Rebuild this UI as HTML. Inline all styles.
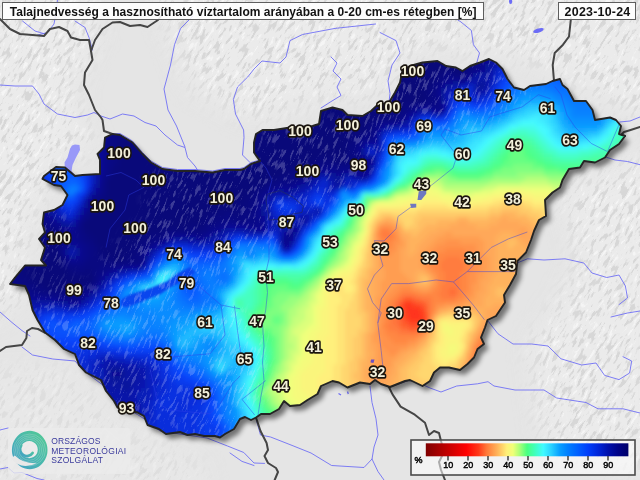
<!DOCTYPE html>
<html><head><meta charset="utf-8"><title>Talajnedvesség</title>
<style>
html,body{margin:0;padding:0;background:#e5e5e5;}
body{width:640px;height:480px;overflow:hidden;position:relative;font-family:"Liberation Sans",sans-serif;}
svg{position:absolute;left:0;top:0;display:block}
.box{position:absolute;background:rgba(255,255,255,0.88);border:1.6px solid #5e5e5e;box-sizing:border-box;font-weight:bold;color:#111;white-space:nowrap;}
#title{left:2px;top:2px;width:481.5px;height:18px;font-size:12px;line-height:19.4px;padding-left:6.8px;letter-spacing:0.035px;opacity:0.999}
#date{left:558.3px;top:2px;width:78.2px;height:18px;font-size:12.4px;line-height:19.4px;text-align:center;letter-spacing:0.25px;padding-left:0.3px;opacity:0.999}
</style></head><body>
<svg width="640" height="480" viewBox="0 0 640 480">
<defs>
<clipPath id="hu"><path d="M112.5 134L120 135L132.5 142.5L142.5 154L151 162.5L162.5 169L177.5 171L195 171L212.5 172.5L225 170L240 170L244 169L251 164L260 161L254 152.5L254 142.5L256 134L262.5 130L274 130L290 127.5L312.5 126L319 124L321 111L332.5 107.5L342.5 110L347.5 115L362.5 116L371 111L377.5 105L389 102.5L395 92.5L400 82.5L402.5 70L410 66L422.5 62.5L437.5 61L446 66L456 67.5L462.5 71L470 66L480 62.5L489 59L496 62.5L502.5 69L507.5 79L514 87.5L524 90L530 86L546 84L552.5 81L560 79L562.5 85L567.5 89L574 101L586 101L592.5 110L595 120L610 117.5L616 120L621 126L619 134L625 136L619 144L610 150L605 157.5L595 162.5L584 161L580 167.5L569 169L562.5 180L560 187.5L552.5 192.5L545 200L546 216L539 220L534 231L531 240L526 252.5L517.5 261L516 274L510 285L504 295L505 302.5L500 310L496 316L487.5 320L485 327.5L481 337.5L484 344L477.5 349L474 357.5L467.5 364L460 370L449 367.5L440 367.5L434 372.5L430 381L422.5 386L410 380L405 381L390 387L381 384L375 380L370 384L360 382.5L347.5 387.5L339 382.5L332.5 381L321 386L317.5 394L307.5 400L300 405L290 406L284 401L279 409L270 414L261 414L256 417.5L251 420L245 417L240 419L234 429L225 434L220 437.5L215 436L204 436L195 434L187.5 435L180 432L166 434L159 429L147.5 425L144 416L137.5 412.5L117.5 407.5L114 401L106 391L101 380L86 372.5L79 365L75 354L64 349L55 340L45 332.5L37.5 320L32.5 310L29 295L25 286L10 284L15 277.5L25 265.5L46 265.5L41 260L45 247.5L39 239L45 232.5L42.5 224L44 212.5L54 210L62.5 205L67.5 195L61 186L54 185L42.5 178.8L44 176L56 167L65 167.5L75 176L82.5 175L100 174L100 160L97.5 154L104 147.5L105 137.5Z"/></clipPath>
<filter id="bl" x="-5%" y="-5%" width="110%" height="110%"><feGaussianBlur stdDeviation="2.2"/></filter>
<filter id="b1"><feGaussianBlur stdDeviation="1.2"/></filter>
<filter id="sh" x="-10%" y="-10%" width="120%" height="120%"><feGaussianBlur stdDeviation="2.8"/></filter>
<linearGradient id="cb" x1="0" x2="1" y1="0" y2="0"><stop offset="0%" stop-color="#800000"/><stop offset="10%" stop-color="#be0000"/><stop offset="20%" stop-color="#ff0000"/><stop offset="26%" stop-color="#ff3818"/><stop offset="30%" stop-color="#ff7838"/><stop offset="35%" stop-color="#ffb058"/><stop offset="40%" stop-color="#fff078"/><stop offset="43%" stop-color="#f0ff78"/><stop offset="46%" stop-color="#b0ff78"/><stop offset="50%" stop-color="#48ff80"/><stop offset="54%" stop-color="#40ffbe"/><stop offset="58%" stop-color="#40faff"/><stop offset="62%" stop-color="#28d0ff"/><stop offset="66%" stop-color="#08a0ff"/><stop offset="70%" stop-color="#0080ff"/><stop offset="75%" stop-color="#0060ff"/><stop offset="80%" stop-color="#003efa"/><stop offset="85%" stop-color="#0026da"/><stop offset="90%" stop-color="#0010ac"/><stop offset="95%" stop-color="#000388"/><stop offset="100%" stop-color="#00006a"/></linearGradient>
</defs>
<rect width="640" height="480" fill="#e5e5e5"/>
<defs>
<filter id="rlD" x="0" y="0" width="100%" height="100%" color-interpolation-filters="sRGB"><feTurbulence type="fractalNoise" baseFrequency="0.085 0.3" numOctaves="4" seed="7"/><feColorMatrix type="matrix" values="0 0 0 0 0.845  0 0 0 0 0.845  0 0 0 0 0.845  10 0 0 0 -5.45"/></filter>
<filter id="rlL" x="0" y="0" width="100%" height="100%" color-interpolation-filters="sRGB"><feTurbulence type="fractalNoise" baseFrequency="0.085 0.3" numOctaves="4" seed="7"/><feColorMatrix type="matrix" values="0 0 0 0 0.96  0 0 0 0 0.96  0 0 0 0 0.96  -10 0 0 0 3.8"/></filter>
<filter id="mb" x="-20%" y="-20%" width="140%" height="140%"><feGaussianBlur stdDeviation="12"/></filter>
<mask id="mtn" maskUnits="userSpaceOnUse" x="0" y="0" width="640" height="480"><rect width="640" height="480" fill="#000"/>
<g filter="url(#mb)" fill="#fff">
<path d="M-30-20H85L100 30 70 95 95 150 55 160 30 220 20 300-30 330Z"/>
<path d="M150-20H660V130L600 95 520 55 420 45 380 95 330 95 250 120 190 85Z"/>
<path d="M560 190L660 150V470L545 450 530 345 562 300 580 260Z"/>
<path d="M-30 370L60 365 130 430 200 460 210 500H-30Z" fill="#777"/>
</g></mask>
</defs>
<g mask="url(#mtn)"><rect width="640" height="480" fill="#ececec" opacity="0.8"/><g transform="rotate(-58 320 240)"><rect x="-200" y="-300" width="1040" height="1080" filter="url(#rlD)"/><rect x="-200" y="-300" width="1040" height="1080" filter="url(#rlL)"/></g></g>

<path d="M75 144.5L79.5 145 80 150 76 157.5 72.500 165 71.500 171 75.500 176 74 177.500 69 172.500 65 167.500 64.500 162.500 67.500 157.500 70 148.750 72 145.500Z" fill="#9898f8"/>
<path d="M338.500 393.500l2.500 1.500M347.500 391.500l.8 2.500" stroke="#6c6cf6" stroke-width="1.300" fill="none"/><ellipse cx="510.600" cy="1.500" rx="1.600" ry="2.500" fill="#6c6cf6"/><ellipse cx="538.5" cy="30.5" rx="5.5" ry="2" transform="rotate(-18 538.5 30.5)" fill="#6c6cf6"/>
<g fill="none" stroke="#6f6ff5" stroke-width="0.9" stroke-linejoin="round" stroke-linecap="round"><path d="M0 85L15 86L32.5 86L39 94L44 104L57.5 114L75 117.5L87.5 115L94 112.5L101 116L110 119L122.5 114L134 116L145 122.5L156 126L165 135L177.5 145L185 147.5L187.5 157.5L195 166L197.5 170"/><path d="M112.5 134L120 133.5L132.5 141L142.5 152.5L151 161L162.5 167.5L177.5 169.5L195 169.5L212.5 171L225 168.5L240 168.5L244 167.5L251 162.5L260 160"/><path d="M57.5 0L56 12.5L54 24L47.5 32.5L37.5 35"/><path d="M75 21L85 27.5L89 37.5L92.5 50"/><path d="M22.5 21L35 31L45 34"/><path d="M193 16L180.6 28.4L174.5 44.7L170.5 65L164 89L168 110L176.5 126L185 147"/><path d="M375.6 24L335 28.4L302.5 34.5L290 40.6L286 57L280 63L262 61L254 69L247.7 77L237.5 87L233.4 99.5L235.5 114L243.6 130L244 137.5L242.5 155L250 162.5"/><path d="M331 57L337 63L333 71L341 79L337 87L341 95.5L331 101.6L321 108"/><path d="M380 32.5L396 40.6L400 53L392 65L388 81L390 93.5L389 102"/><path d="M455 18L461 22L471.4 30.5L473.4 44.7L479.5 53L476.7 63"/><path d="M619.7 122L630 121L640 117"/><path d="M605.6 157L615 160L627.5 161.5L640 164.7"/><path d="M517 263L527.5 258.8L544 260L565 258.8L583.8 263L592 273L606.7 277.5L619 275L625.4 286L627.5 298L619 304.6"/><path d="M611 317L627.5 313L640 311"/><path d="M488 321L498 333.8L513 344L531.7 344L548 346L561 358.8L581.7 365L596 363L604.6 375.4L619 379.6L629.6 373L631.7 361L623 356.7"/><path d="M392.5 386L408.8 380.5L417 382L430 388L441 392L456.7 386L477.5 383.8L488 381.7L494 386L515 390L544 390L556.7 398L586 402.5L598 408.8L623 408.8L640 413"/><path d="M370 386L372 402.5L376 418.8L378 435L374 447L372 459L378 471.6L384 480"/><path d="M256 418.75L260.5 435L270.6 437L291 445L311 453L331.6 465.5L364 467.5L372 459"/><path d="M22 347L32.5 355L52.8 359L75 361L82 369L93.4 378L104 386L109.7 393L116 403L137.5 414.5L146 420L160 431L180 434L207 438L227.5 446L243.8 452.5L254 463L264.5 463.4"/><path d="M230 453L242 461.4L254 465.5"/><path d="M0 312L12 322.5L22 330.6L30 336"/><path d="M0 430L8 428"/><path d="M0 469L8 467.5L14 473L22 472.5L37 478.5L44 480"/></g>
<g fill="none" stroke="#454545" stroke-width="2" stroke-linejoin="round" stroke-linecap="round"><path d="M0 19L10 29L20 34L32.5 35L44 36L50 29L59 27L67.5 31L71 37.5L80 40L89 40L91 51"/><path d="M91 51L95 40L102.5 29L112.5 22.5L120 22L130 26L140 25L147.5 27L158 20L162 15"/><path d="M91 51L92.5 60L85 72.5L84 85L89 95L95 110L101 117.5L102.5 120L104 131L112.5 134"/><path d="M571 18L569 36.5L563 44.7L554.7 53L552.7 65L554 81"/><path d="M625 136L621 135L624 132L630.6 130L640 127"/><path d="M388.4 386L392.5 394.4L400.6 406.6L414.8 414.7L425 422.8L429 435L434 431L439 433L441 441L444 452L439 462L441 470L445 480"/><path d="M256.4 418.75L260.5 431L266.6 443L268 450L264.5 456L268 463L276 468L278 472L274.7 480"/><path d="M0 351L6 347L14 346L22 345L26.4 338L27 331L32 328L38 329L44.7 332.6"/></g>
<path d="M112.5 134L120 135L132.5 142.5L142.5 154L151 162.5L162.5 169L177.5 171L195 171L212.5 172.5L225 170L240 170L244 169L251 164L260 161L254 152.5L254 142.5L256 134L262.5 130L274 130L290 127.5L312.5 126L319 124L321 111L332.5 107.5L342.5 110L347.5 115L362.5 116L371 111L377.5 105L389 102.5L395 92.5L400 82.5L402.5 70L410 66L422.5 62.5L437.5 61L446 66L456 67.5L462.5 71L470 66L480 62.5L489 59L496 62.5L502.5 69L507.5 79L514 87.5L524 90L530 86L546 84L552.5 81L560 79L562.5 85L567.5 89L574 101L586 101L592.5 110L595 120L610 117.5L616 120L621 126L619 134L625 136L619 144L610 150L605 157.5L595 162.5L584 161L580 167.5L569 169L562.5 180L560 187.5L552.5 192.5L545 200L546 216L539 220L534 231L531 240L526 252.5L517.5 261L516 274L510 285L504 295L505 302.5L500 310L496 316L487.5 320L485 327.5L481 337.5L484 344L477.5 349L474 357.5L467.5 364L460 370L449 367.5L440 367.5L434 372.5L430 381L422.5 386L410 380L405 381L390 387L381 384L375 380L370 384L360 382.5L347.5 387.5L339 382.5L332.5 381L321 386L317.5 394L307.5 400L300 405L290 406L284 401L279 409L270 414L261 414L256 417.5L251 420L245 417L240 419L234 429L225 434L220 437.5L215 436L204 436L195 434L187.5 435L180 432L166 434L159 429L147.5 425L144 416L137.5 412.5L117.5 407.5L114 401L106 391L101 380L86 372.5L79 365L75 354L64 349L55 340L45 332.5L37.5 320L32.5 310L29 295L25 286L10 284L15 277.5L25 265.5L46 265.5L41 260L45 247.5L39 239L45 232.5L42.5 224L44 212.5L54 210L62.5 205L67.5 195L61 186L54 185L42.5 178.8L44 176L56 167L65 167.5L75 176L82.5 175L100 174L100 160L97.5 154L104 147.5L105 137.5Z" transform="translate(4.5,5)" fill="#000" opacity="0.5" filter="url(#sh)"/>
<path d="M112.5 134L120 135L132.5 142.5L142.5 154L151 162.5L162.5 169L177.5 171L195 171L212.5 172.5L225 170L240 170L244 169L251 164L260 161L254 152.5L254 142.5L256 134L262.5 130L274 130L290 127.5L312.5 126L319 124L321 111L332.5 107.5L342.5 110L347.5 115L362.5 116L371 111L377.5 105L389 102.5L395 92.5L400 82.5L402.5 70L410 66L422.5 62.5L437.5 61L446 66L456 67.5L462.5 71L470 66L480 62.5L489 59L496 62.5L502.5 69L507.5 79L514 87.5L524 90L530 86L546 84L552.5 81L560 79L562.5 85L567.5 89L574 101L586 101L592.5 110L595 120L610 117.5L616 120L621 126L619 134L625 136L619 144L610 150L605 157.5L595 162.5L584 161L580 167.5L569 169L562.5 180L560 187.5L552.5 192.5L545 200L546 216L539 220L534 231L531 240L526 252.5L517.5 261L516 274L510 285L504 295L505 302.5L500 310L496 316L487.5 320L485 327.5L481 337.5L484 344L477.5 349L474 357.5L467.5 364L460 370L449 367.5L440 367.5L434 372.5L430 381L422.5 386L410 380L405 381L390 387L381 384L375 380L370 384L360 382.5L347.5 387.5L339 382.5L332.5 381L321 386L317.5 394L307.5 400L300 405L290 406L284 401L279 409L270 414L261 414L256 417.5L251 420L245 417L240 419L234 429L225 434L220 437.5L215 436L204 436L195 434L187.5 435L180 432L166 434L159 429L147.5 425L144 416L137.5 412.5L117.5 407.5L114 401L106 391L101 380L86 372.5L79 365L75 354L64 349L55 340L45 332.5L37.5 320L32.5 310L29 295L25 286L10 284L15 277.5L25 265.5L46 265.5L41 260L45 247.5L39 239L45 232.5L42.5 224L44 212.5L54 210L62.5 205L67.5 195L61 186L54 185L42.5 178.8L44 176L56 167L65 167.5L75 176L82.5 175L100 174L100 160L97.5 154L104 147.5L105 137.5Z" fill="#000080"/>
<g clip-path="url(#hu)">
<g filter="url(#bl)" fill="none" stroke-width="5" stroke-linecap="butt">
<path stroke="#ff2510" d="M412 314h5"/>
<path stroke="#ff2f14" d="M404 306h9M404 310h17M408 314h5M416 314h5M408 318h17"/>
<path stroke="#ff3818" d="M404 302h9M400 306h5M412 306h9M420 310h5M404 314h5M420 314h5M404 318h5M408 322h17"/>
<path stroke="#ff4820" d="M400 302h5M412 302h5M420 306h5M400 310h5M400 314h5M424 314h5M400 318h5M424 318h5M404 322h5M424 322h5M408 326h13"/>
<path stroke="#ff5828" d="M404 298h9M416 302h9M396 306h5M424 306h5M396 310h5M424 310h5M400 322h5M400 326h9M420 326h5M408 330h9"/>
<path stroke="#ff6830" d="M448 290h9M448 294h9M400 298h5M412 298h9M396 302h5M424 302h5M396 314h5M396 318h5M392 322h9M396 326h5M424 326h5M400 330h9M416 330h9M484 346h9M480 350h9M480 354h9M480 358h5"/>
<path stroke="#ff7838" d="M380 230h9M380 234h13M380 238h13M444 258h17M440 262h25M440 266h25M440 270h25M444 274h17M444 278h17M444 282h17M440 286h21M440 290h9M456 290h5M400 294h17M436 294h13M456 294h5M396 298h5M420 298h13M440 298h17M392 302h5M428 302h5M392 306h5M428 306h5M392 310h5M428 310h5M392 314h5M428 314h5M388 318h9M428 318h5M388 322h5M384 326h13M388 330h13M396 334h25M488 338h5M484 342h13M476 346h9M476 350h5M476 354h5M476 358h5M476 362h5"/>
<path stroke="#ff833e" d="M388 230h5M376 234h5M392 234h5M392 238h5M380 242h13M384 246h9M444 250h21M436 254h37M432 258h13M460 258h17M432 262h9M464 262h13M428 266h13M464 266h9M432 270h9M464 270h9M436 274h9M460 274h9M436 278h9M460 278h9M436 282h9M460 282h9M436 286h5M460 286h9M400 290h13M432 290h9M460 290h9M396 294h5M416 294h21M460 294h5M392 298h5M432 298h9M456 298h9M388 302h5M432 302h25M388 306h5M432 306h5M384 310h9M432 310h5M384 314h9M384 318h5M384 322h5M428 322h5M380 326h5M384 330h5M424 330h5M492 330h5M384 334h13M420 334h5M484 334h13M388 338h29M480 338h9M392 342h17M476 342h9M472 350h5M472 354h5M472 358h5M472 362h5M472 366h5"/>
<path stroke="#ff8e45" d="M380 226h13M376 230h5M392 230h5M376 238h5M396 238h5M376 242h5M392 242h9M444 242h17M380 246h5M392 246h5M436 246h41M380 250h17M432 250h13M464 250h13M384 254h9M428 254h9M472 254h9M428 258h5M476 258h5M424 262h9M476 262h5M424 266h5M472 266h9M428 270h5M472 270h9M432 274h5M468 274h9M468 278h9M468 282h9M396 286h17M432 286h5M468 286h5M392 290h9M412 290h9M428 290h5M468 290h5M388 294h9M464 294h9M384 298h9M464 298h5M384 302h5M456 302h9M380 306h9M436 306h9M380 310h5M380 314h5M432 314h5M380 318h5M380 322h5M496 322h5M428 326h5M488 326h9M376 330h9M484 330h9M376 334h9M480 334h5M380 338h9M416 338h5M476 338h5M380 342h13M408 342h9M380 346h29M472 346h5M384 350h17M388 354h9M468 358h5M468 362h5M468 366h5M376 370h5M376 374h5"/>
<path stroke="#ff9a4b" d="M384 222h5M376 226h5M392 226h5M396 230h5M520 230h5M396 234h5M444 234h9M520 234h5M436 238h45M400 242h5M432 242h13M460 242h25M376 246h5M396 246h9M428 246h9M476 246h9M376 250h5M396 250h5M424 250h9M476 250h9M376 254h9M392 254h9M420 254h9M480 254h5M380 258h21M420 258h9M480 258h9M380 262h21M420 262h5M480 262h9M380 266h21M420 266h5M480 266h9M384 270h17M424 270h5M480 270h9M384 274h21M428 274h5M476 274h9M384 278h25M432 278h5M476 278h9M380 282h33M432 282h5M476 282h5M380 286h17M412 286h5M428 286h5M472 286h9M380 290h13M420 290h9M472 290h9M380 294h9M472 294h5M376 298h9M468 298h9M376 302h9M464 302h9M376 306h5M444 306h21M376 310h5M436 310h5M508 310h5M376 314h5M496 314h13M376 318h5M492 318h13M376 322h5M488 322h9M376 326h5M484 326h5M428 330h5M480 330h5M372 334h5M424 334h5M476 334h5M372 338h9M420 338h5M372 342h9M416 342h5M472 342h5M376 346h5M408 346h9M376 350h9M400 350h9M376 354h13M396 354h5M468 354h5M376 358h21M376 362h17M372 366h21M372 370h5M380 370h9M468 370h5M372 374h5M380 374h9M372 378h13"/>
<path stroke="#ffa552" d="M500 218h9M380 222h5M388 222h9M456 222h13M496 222h25M396 226h5M448 226h29M488 226h41M436 230h85M524 230h9M372 234h5M400 234h5M428 234h17M452 234h49M512 234h9M524 234h13M372 238h5M400 238h9M424 238h13M480 238h17M516 238h21M372 242h5M404 242h5M420 242h13M484 242h13M520 242h17M372 246h5M404 246h5M416 246h13M484 246h13M524 246h17M372 250h5M400 250h9M416 250h9M484 250h13M528 250h13M372 254h5M400 254h9M412 254h9M484 254h13M532 254h5M376 258h5M400 258h21M488 258h9M376 262h5M400 262h21M488 262h9M376 266h5M400 266h21M488 266h9M376 270h9M400 270h25M488 270h9M372 274h13M404 274h13M424 274h5M484 274h13M372 278h13M408 278h9M428 278h5M484 278h9M372 282h9M412 282h5M428 282h5M480 282h13M372 286h9M416 286h13M480 286h9M372 290h9M480 290h9M372 294h9M476 294h13M372 298h5M476 298h9M512 298h5M372 302h5M472 302h13M508 302h9M372 306h5M464 306h21M492 306h25M372 310h5M440 310h9M456 310h9M484 310h25M372 314h5M436 314h5M484 314h13M372 318h5M432 318h5M484 318h9M372 322h5M480 322h9M372 326h5M480 326h5M372 330h5M476 330h5M368 334h5M368 338h5M424 338h5M472 338h5M368 342h5M420 342h5M368 346h9M416 346h5M468 346h5M368 350h9M408 350h9M468 350h5M372 354h5M400 354h9M368 358h9M396 358h9M368 362h9M392 362h9M464 362h5M368 366h5M392 366h5M464 366h5M364 370h9M388 370h9M464 370h5M364 374h9M388 374h9M464 374h5M364 378h9M384 378h9M460 378h5M368 382h25M372 386h17"/>
<path stroke="#ffb058" d="M500 214h17M384 218h9M456 218h13M488 218h13M508 218h21M376 222h5M436 222h21M468 222h29M520 222h13M424 226h25M476 226h13M528 226h13M372 230h5M400 230h5M420 230h17M532 230h13M404 234h9M416 234h13M500 234h13M536 234h9M408 238h17M496 238h21M536 238h9M408 242h13M496 242h13M516 242h5M536 242h9M408 246h9M496 246h13M512 246h13M408 250h9M496 250h33M408 254h5M496 254h37M372 258h5M496 258h37M372 262h5M496 262h33M372 266h5M496 266h33M368 270h9M496 270h33M368 274h5M416 274h9M496 274h33M368 278h5M416 278h5M492 278h33M364 282h9M416 282h5M492 282h33M364 286h9M488 286h33M364 290h9M488 290h9M504 290h17M364 294h9M488 294h9M504 294h13M364 298h9M484 298h29M364 302h9M484 302h25M364 306h9M484 306h9M364 310h9M448 310h9M464 310h21M368 314h5M476 314h9M368 318h5M480 318h5M368 322h5M432 322h5M368 326h5M476 326h5M368 330h5M364 334h5M428 334h5M472 334h5M364 338h5M364 342h5M424 342h5M468 342h5M364 346h5M420 346h5M364 350h5M416 350h5M364 354h9M408 354h9M464 354h5M364 358h5M404 358h9M464 358h5M360 362h9M400 362h9M360 366h9M396 366h9M460 366h5M360 370h5M396 370h5M460 370h5M360 374h5M396 374h5M460 374h5M360 378h5M392 378h9M456 378h5M360 382h9M392 382h9M364 386h9M388 386h9M364 390h33M368 394h5M376 394h17"/>
<path stroke="#ffbd5e" d="M500 210h21M488 214h13M516 214h13M380 218h5M392 218h5M420 218h37M468 218h21M528 218h9M396 222h5M416 222h21M532 222h13M372 226h5M400 226h5M416 226h9M540 226h9M404 230h17M544 230h5M412 234h5M368 242h5M508 242h9M368 246h5M508 246h5M368 250h5M368 254h5M368 258h5M368 262h5M368 266h5M364 270h5M364 274h5M360 278h9M420 278h9M360 282h5M420 282h9M360 286h5M360 290h5M496 290h9M360 294h5M496 294h9M360 298h5M360 302h5M360 306h5M360 310h5M364 314h5M440 314h9M452 314h25M364 318h5M476 318h5M364 322h5M476 322h5M364 326h5M432 326h5M364 330h5M432 330h5M472 330h5M360 334h5M468 334h5M360 338h5M428 338h5M468 338h5M360 342h5M360 346h5M424 346h5M360 350h5M420 350h5M464 350h5M360 354h5M416 354h5M356 358h9M412 358h9M356 362h5M408 362h9M460 362h5M356 366h5M404 366h9M356 370h5M400 370h9M456 370h5M352 374h9M400 374h9M452 374h9M352 378h9M400 378h9M452 378h5M356 382h5M400 382h9M356 386h9M396 386h13M356 390h9M396 390h13M360 394h9M392 394h13M388 398h5"/>
<path stroke="#ffca65" d="M512 202h5M500 206h25M488 210h13M520 210h13M380 214h13M416 214h73M528 214h13M376 218h5M396 218h5M412 218h9M536 218h13M372 222h5M400 222h5M412 222h5M544 222h9M408 226h9M368 234h5M368 238h5M364 254h5M364 258h5M364 262h5M364 266h5M360 270h5M360 274h5M356 278h5M356 282h5M332 286h5M356 286h5M356 290h5M356 294h5M356 298h5M356 302h5M356 306h5M356 310h5M356 314h9M448 314h5M360 318h5M436 318h5M472 318h5M360 322h5M472 322h5M360 326h5M472 326h5M356 330h9M356 334h5M432 334h5M352 338h9M432 338h5M352 342h9M428 342h5M464 342h5M352 346h9M428 346h5M464 346h5M352 350h9M424 350h5M352 354h9M420 354h9M352 358h5M420 358h5M460 358h5M348 362h9M416 362h9M456 362h5M348 366h9M412 366h9M456 366h5M348 370h9M408 370h13M452 370h5M348 374h5M408 374h9M448 374h5M348 378h5M408 378h13M440 378h13M348 382h9M408 382h33M348 386h9M408 386h29M348 390h9M408 390h25M348 394h13M416 394h13"/>
<path stroke="#ffd66b" d="M500 202h13M516 202h9M488 206h13M524 206h9M416 210h73M532 210h13M376 214h5M392 214h25M540 214h13M372 218h5M400 218h13M548 218h9M404 222h9M368 226h5M404 226h5M368 230h5M364 246h5M364 250h5M360 262h5M360 266h5M356 270h5M356 274h5M352 282h5M336 286h5M352 294h5M352 298h5M348 302h9M348 306h9M344 310h13M344 314h13M344 318h17M440 318h5M452 318h21M344 322h17M344 326h17M344 330h13M468 330h5M344 334h13M464 334h5M344 338h9M464 338h5M344 342h9M432 342h5M344 346h9M344 350h9M428 350h5M344 354h9M428 354h5M460 354h5M344 358h9M424 358h9M456 358h5M344 362h5M424 362h9M340 366h9M420 366h17M448 366h9M340 370h9M420 370h33M340 374h9M416 374h33M340 378h9M420 378h21M340 382h9M340 386h9M340 390h9M340 394h9M344 398h9"/>
<path stroke="#ffe372" d="M504 198h17M492 202h9M524 202h9M420 206h29M472 206h17M532 206h13M376 210h41M544 210h13M552 214h5M368 222h5M364 238h5M364 242h5M360 250h5M360 254h5M360 258h5M356 266h5M352 274h5M352 278h5M332 282h9M348 282h5M328 286h5M340 286h5M352 286h5M332 290h13M352 290h5M336 294h17M340 298h13M340 302h9M336 306h13M336 310h9M336 314h9M336 318h9M444 318h9M336 322h9M436 322h5M468 322h5M336 326h9M436 326h5M468 326h5M336 330h9M436 330h5M464 330h5M336 334h9M436 334h5M336 338h9M436 338h5M460 338h5M336 342h9M436 342h5M460 342h5M336 346h9M432 346h5M336 350h9M432 350h5M460 350h5M336 354h9M432 354h5M336 358h9M432 358h5M336 362h9M432 362h9M448 362h9M332 366h9M436 366h13M332 370h9M332 374h9M332 378h9M328 382h13M328 386h13M328 390h13M336 394h5"/>
<path stroke="#fff078" d="M512 194h5M492 198h13M520 198h13M420 202h25M480 202h13M532 202h17M400 206h21M448 206h25M544 206h13M372 214h5M364 234h5M360 246h5M356 258h5M356 262h5M352 266h5M352 270h5M348 274h5M336 278h17M328 282h5M340 282h9M344 286h9M328 290h5M344 290h9M328 294h9M328 298h13M328 302h13M328 306h9M328 310h9M328 314h9M328 318h9M328 322h9M444 322h25M328 326h9M464 326h5M328 330h9M460 330h5M328 334h9M440 334h5M460 334h5M324 338h13M440 338h5M324 342h13M440 342h5M324 346h13M436 346h9M460 346h5M324 350h13M436 350h5M324 354h13M436 354h5M456 354h5M324 358h13M436 358h9M448 358h9M324 362h13M440 362h9M324 366h9M324 370h9M320 374h13M316 378h17M316 382h13M316 386h13M316 390h13M316 394h17M320 398h5"/>
<path stroke="#faf578" d="M424 194h5M500 194h13M516 194h17M420 198h21M484 198h9M532 198h17M404 202h17M444 202h13M468 202h13M548 202h9M376 206h25M372 210h5M368 218h5M364 226h5M364 230h5M360 242h5M356 250h5M356 254h5M352 262h5M348 270h5M340 274h9M332 278h5M324 286h5M324 290h5M324 294h5M324 298h5M324 302h5M324 306h5M320 310h9M320 314h9M320 318h9M320 322h9M440 322h5M320 326h9M440 326h5M448 326h17M320 330h9M440 330h5M452 330h9M316 334h13M444 334h5M452 334h9M316 338h9M444 338h17M312 342h13M444 342h17M312 346h13M444 346h5M456 346h5M312 350h13M440 350h9M456 350h5M312 354h13M440 354h9M452 354h5M312 358h13M444 358h5M312 362h13M308 366h17M304 370h21M300 374h21M300 378h17M300 382h17M300 386h17M300 390h17M304 394h13M308 398h13M312 402h9M312 406h5"/>
<path stroke="#f5fa78" d="M420 190h13M508 190h17M416 194h9M428 194h13M488 194h13M532 194h21M408 198h13M440 198h17M468 198h17M548 198h13M392 202h13M456 202h13M372 206h5M368 214h5M364 222h5M360 238h5M356 246h5M352 254h5M352 258h5M348 266h5M340 270h9M336 274h5M328 278h5M324 282h5M320 290h5M320 294h5M320 298h5M320 302h5M316 306h9M316 310h5M316 314h5M316 318h5M316 322h5M316 326h5M444 326h5M312 330h9M444 330h9M308 334h9M448 334h5M308 338h9M308 342h5M304 346h9M448 346h9M304 350h9M448 350h9M304 354h9M448 354h5M304 358h9M300 362h13M300 366h9M296 370h9M296 374h5M292 378h9M292 382h9M292 386h9M292 390h9M292 394h13M292 398h17M296 402h17M304 406h9M308 410h5"/>
<path stroke="#f0ff78" d="M420 186h13M416 190h5M432 190h9M492 190h17M524 190h29M412 194h5M440 194h13M472 194h17M552 194h13M396 198h13M456 198h13M376 202h17M368 210h5M364 218h5M360 234h5M356 242h5M352 246h5M352 250h5M348 258h5M348 262h5M344 266h5M336 270h5M332 274h5M320 286h5M316 294h5M316 298h5M316 302h5M312 306h5M312 310h5M312 314h5M312 318h5M312 322h5M308 326h9M304 330h9M300 334h9M300 338h9M300 342h9M300 346h5M300 350h5M300 354h5M296 358h9M296 362h5M292 366h9M292 370h5M288 374h9M288 378h5M284 382h9M284 386h9M284 390h9M284 394h9M284 398h9M288 402h9M292 406h13M296 410h13"/>
<path stroke="#dbff78" d="M420 182h13M416 186h5M432 186h9M496 186h57M412 190h5M440 190h5M480 190h13M552 190h17M404 194h9M452 194h21M392 198h5M372 202h5M368 206h5M364 214h5M360 222h5M360 226h5M360 230h5M356 234h5M356 238h5M352 242h5M348 250h5M348 254h5M344 262h5M340 266h5M332 270h5M328 274h5M324 278h5M320 282h5M316 290h5M312 294h5M312 298h5M308 302h9M308 306h5M304 310h9M304 314h9M304 318h9M300 322h13M296 326h13M292 330h13M292 334h9M296 338h5M296 342h5M296 346h5M296 350h5M292 354h9M292 358h5M288 362h9M288 366h5M288 370h5M284 374h5M284 378h5M280 382h5M280 386h5M276 390h9M280 394h5M280 398h5M284 402h5M288 406h5M292 410h5M296 414h9"/>
<path stroke="#c5ff78" d="M432 182h9M520 182h29M440 186h5M484 186h13M552 186h21M408 190h5M444 190h37M396 194h9M388 198h5M360 218h5M352 238h5M348 242h5M348 246h5M344 250h5M344 254h5M344 258h5M340 262h5M336 266h5M328 270h5M324 274h5M320 278h5M316 286h5M312 290h5M308 294h5M308 298h5M304 302h5M300 306h9M296 310h9M296 314h9M292 318h13M292 322h9M288 326h9M288 330h5M288 334h5M288 338h9M288 342h9M292 346h5M288 350h9M288 354h5M288 358h5M284 362h5M284 366h5M284 370h5M280 374h5M276 378h9M276 382h5M272 386h9M272 390h5M272 394h9M276 398h5M276 402h9M280 406h9M284 410h9M288 414h9"/>
<path stroke="#b0ff78" d="M424 178h17M524 178h25M416 182h5M440 182h5M488 182h33M548 182h25M412 186h5M444 186h41M392 194h5M368 202h5M364 210h5M360 214h5M356 222h5M356 226h5M356 230h5M352 234h5M348 238h5M344 246h5M340 254h5M340 258h5M336 262h5M332 266h5M316 282h5M312 286h5M308 290h5M304 294h5M300 298h9M296 302h9M292 306h9M288 310h9M288 314h9M288 318h5M288 322h5M284 330h5M284 334h5M284 338h5M284 342h5M284 346h9M284 350h5M284 354h5M284 358h5M280 362h5M280 366h5M280 370h5M276 374h5M272 382h5M268 386h5M268 390h5M268 394h5M272 398h5M272 402h5M276 406h5M280 410h5M284 414h5M288 418h5"/>
<path stroke="#96ff7a" d="M436 174h5M516 174h29M420 178h5M440 178h9M492 178h33M548 178h33M444 182h45M408 186h5M400 190h9M380 198h9M356 218h5M352 226h5M352 230h5M348 234h5M344 238h5M344 242h5M340 246h5M340 250h5M336 254h5M336 258h5M332 262h5M328 266h5M324 270h5M320 274h5M316 278h5M312 282h5M308 286h5M304 290h5M300 294h5M288 298h13M284 302h13M280 306h13M280 310h9M284 314h5M284 318h5M256 322h5M284 322h5M280 326h9M280 330h5M280 334h5M280 338h5M280 342h5M280 346h5M280 350h5M280 354h5M280 358h5M276 366h5M276 370h5M272 374h5M272 378h5M268 382h5M264 390h5M264 394h5M268 398h5M268 402h5M272 406h5M276 410h5M280 414h5"/>
<path stroke="#7cff7c" d="M512 166h21M500 170h45M424 174h13M440 174h9M492 174h25M544 174h41M592 174h5M416 178h5M448 178h9M480 178h13M412 182h5M396 190h5M376 198h5M364 206h5M356 214h5M352 218h5M352 222h5M348 230h5M344 234h5M340 242h5M336 250h5M332 258h5M328 262h5M324 266h5M312 278h5M308 282h5M304 286h5M300 290h5M276 294h25M272 298h17M272 302h13M272 306h9M268 310h13M264 314h21M256 318h17M280 318h5M260 322h13M280 322h5M260 326h21M272 330h9M272 334h9M276 338h5M276 342h5M276 346h5M276 350h5M276 354h5M276 358h5M276 362h5M272 366h5M272 370h5M268 378h5M264 386h5M260 394h5M264 398h5M268 406h5M272 410h5M276 414h5"/>
<path stroke="#62ff7e" d="M512 146h9M512 150h13M508 154h17M508 158h21M504 162h33M500 166h13M532 166h13M600 166h9M432 170h13M492 170h9M544 170h17M580 170h25M420 174h5M448 174h5M484 174h9M456 178h25M404 186h5M388 194h5M364 198h13M364 202h5M360 210h5M348 226h5M344 230h5M340 238h5M336 246h5M332 254h5M328 258h5M320 270h5M316 274h5M304 282h5M272 286h17M300 286h5M268 290h33M268 294h9M268 298h5M264 302h9M264 306h9M260 310h9M256 314h9M252 318h5M272 318h9M252 322h5M272 322h9M256 326h5M260 330h13M268 334h5M272 338h5M272 342h5M272 346h5M272 350h5M272 354h5M272 358h5M272 362h5M268 370h5M268 374h5M264 382h5M260 390h5M260 398h5M264 402h5M264 406h5M268 410h5M272 414h5M276 418h5"/>
<path stroke="#48ff80" d="M512 142h9M508 146h5M520 146h5M508 150h5M524 150h5M504 154h5M524 154h9M500 158h9M528 158h9M612 158h5M500 162h5M536 162h9M600 162h13M492 166h9M544 166h13M584 166h17M424 170h9M444 170h5M484 170h9M560 170h21M416 174h5M452 174h33M412 178h5M408 182h5M400 186h5M392 190h5M356 210h5M352 214h5M348 222h5M340 234h5M336 238h5M336 242h5M332 246h5M332 250h5M328 254h5M324 262h5M320 266h5M316 270h5M312 274h5M308 278h5M268 282h25M300 282h5M264 286h9M288 286h13M264 290h5M264 294h5M264 298h5M260 302h5M260 306h5M256 310h5M252 314h5M252 326h5M256 330h5M260 334h9M264 338h9M268 342h5M268 346h5M268 362h5M268 366h5M264 374h5M264 378h5M260 386h5M260 402h5M264 410h5M268 414h5M272 418h5"/>
<path stroke="#46ff90" d="M508 142h5M520 142h5M504 146h5M524 146h9M504 150h5M528 150h9M620 150h5M500 154h5M532 154h9M612 154h9M496 158h5M536 158h9M604 158h9M492 162h9M544 162h9M584 162h17M428 166h17M488 166h5M556 166h29M420 170h5M448 170h9M476 170h9M396 186h5M384 194h5M360 206h5M348 218h5M344 226h5M340 230h5M336 234h5M332 242h5M328 250h5M324 258h5M320 262h5M308 274h5M264 278h25M300 278h9M264 282h5M292 282h9M260 286h5M260 290h5M260 294h5M260 298h5M236 302h5M256 306h5M248 318h5M248 322h5M252 330h5M256 334h5M260 338h5M264 342h5M268 350h5M268 354h5M268 358h5M264 370h5M260 382h5M256 390h5M256 394h5M260 406h5M264 414h5M268 418h5M272 422h5"/>
<path stroke="#44ff9f" d="M512 138h13M524 142h9M624 142h9M532 146h5M616 146h13M500 150h5M536 150h5M612 150h9M496 154h5M540 154h5M604 154h9M492 158h5M544 158h9M588 158h17M488 162h5M552 162h33M424 166h5M444 166h5M480 166h9M456 170h21M412 174h5M408 178h5M404 182h5M352 210h5M348 214h5M344 222h5M332 238h5M328 246h5M324 254h5M320 258h5M316 266h5M312 270h5M304 274h5M260 278h5M288 278h13M260 282h5M256 286h5M256 290h5M256 294h5M256 298h5M256 302h5M252 306h5M252 310h5M248 314h5M248 326h5M260 342h5M264 346h5M264 350h5M264 354h5M264 362h5M264 366h5M260 374h5M260 378h5M256 386h5M256 398h5M256 402h5M260 410h5M264 418h5M268 422h5"/>
<path stroke="#42ffae" d="M508 138h5M524 138h9M620 138h17M504 142h5M532 142h5M616 142h9M500 146h5M536 146h5M612 146h5M496 150h5M540 150h5M604 150h9M492 154h5M544 154h9M592 154h13M488 158h5M552 158h9M576 158h13M428 162h17M484 162h5M420 166h5M448 166h9M472 166h9M416 170h5M408 174h5M404 178h5M400 182h5M388 190h5M380 194h5M360 202h5M356 206h5M336 230h5M332 234h5M328 242h5M324 250h5M320 254h5M316 262h5M312 266h5M308 270h5M264 274h41M256 282h5M252 290h5M252 294h5M252 298h5M240 302h5M252 302h5M236 306h9M244 310h9M244 314h5M244 318h5M248 330h5M252 334h5M256 338h5M260 346h5M264 358h5M260 370h5M256 382h5M256 406h5M260 414h5M268 426h5"/>
<path stroke="#40ffbe" d="M512 134h17M616 134h17M504 138h5M532 138h5M612 138h9M500 142h5M536 142h5M612 142h5M496 146h5M540 146h5M604 146h9M492 150h5M544 150h5M596 150h9M488 154h5M552 154h5M580 154h13M484 158h5M560 158h17M424 162h5M444 162h9M476 162h9M456 166h17M412 170h5M392 186h5M364 194h5M344 218h5M340 226h5M332 230h5M328 234h5M328 238h5M324 246h5M316 258h5M308 266h5M304 270h5M260 274h5M256 278h5M252 282h5M252 286h5M248 290h5M244 294h9M236 298h17M232 302h5M244 302h9M244 306h9M236 310h9M240 314h5M244 322h5M244 326h5M248 334h5M252 338h5M256 342h5M260 350h5M260 354h5M260 362h5M260 366h5M256 378h5M252 386h5M252 390h5M252 394h5M252 398h5M256 410h5M260 418h5M264 422h5M264 426h5"/>
<path stroke="#40fece" d="M516 130h13M616 130h17M508 134h5M528 134h9M612 134h5M500 138h5M536 138h5M496 142h5M540 142h5M608 142h5M492 146h5M544 146h5M600 146h5M488 150h5M548 150h9M588 150h9M484 154h5M556 154h25M424 158h17M480 158h5M420 162h5M452 162h5M468 162h9M416 166h5M408 170h5M404 174h5M400 178h5M396 182h5M376 194h5M360 198h5M348 210h5M340 222h5M336 226h5M324 242h5M320 250h5M316 254h5M312 262h5M268 270h37M256 274h5M252 278h5M248 286h5M244 290h5M240 294h5M232 298h5M232 306h5M240 318h5M244 330h5M248 338h5M252 342h5M256 346h5M260 358h5M256 370h5M256 374h5M252 382h5M252 402h5M256 414h5M260 422h5"/>
<path stroke="#40fcde" d="M620 126h13M508 130h9M528 130h9M612 130h5M504 134h5M536 134h5M496 138h5M540 138h5M608 138h5M492 142h5M544 142h5M604 142h5M488 146h5M548 146h5M596 146h5M484 150h5M556 150h5M576 150h13M480 154h5M420 158h5M440 158h9M472 158h9M456 162h13M412 166h5M384 190h5M368 194h9M352 206h5M344 214h5M332 226h5M328 230h5M324 234h5M324 238h5M320 246h5M312 258h5M308 262h5M304 266h5M260 270h9M252 274h5M248 282h5M244 286h5M236 294h5M232 310h5M236 314h5M236 318h5M240 322h5M240 326h5M240 330h5M244 334h5M252 346h5M256 350h5M256 354h5M256 366h5M252 378h5M248 390h5M248 394h5M248 398h5M252 406h5M252 410h5M256 418h5M260 426h5"/>
<path stroke="#40fbef" d="M516 126h21M616 126h5M536 130h5M500 134h5M540 134h5M608 134h5M492 138h5M544 138h5M604 138h5M488 142h5M548 142h5M600 142h5M484 146h5M552 146h5M588 146h9M480 150h5M560 150h17M424 154h17M476 154h5M416 158h5M448 158h9M468 158h5M416 162h5M404 166h9M404 170h5M400 174h5M392 182h5M388 186h5M340 218h5M324 230h5M320 242h5M316 250h5M284 266h5M300 266h5M256 270h5M160 278h5M248 278h5M240 290h5M232 314h5M236 322h5M236 326h5M240 334h5M244 338h5M248 342h5M256 358h5M256 362h5M252 374h5M248 382h5M248 386h5M248 402h5M252 414h5M256 422h5"/>
<path stroke="#40faff" d="M520 122h17M620 122h9M508 126h9M536 126h9M612 126h5M504 130h5M540 130h9M608 130h5M496 134h5M544 134h5M488 138h5M548 138h5M600 138h5M484 142h5M552 142h5M596 142h5M480 146h5M556 146h9M580 146h9M476 150h5M420 154h5M440 154h9M468 154h9M456 158h13M404 162h13M400 166h5M400 170h5M396 178h5M380 190h5M356 202h5M344 210h5M336 222h5M328 226h5M320 238h5M316 246h5M312 254h5M308 258h5M304 262h5M264 266h13M280 266h5M288 266h5M296 266h5M252 270h5M248 274h5M156 282h5M244 282h5M240 286h5M236 290h5M232 294h5M228 298h5M228 302h5M228 306h5M232 318h5M232 322h5M236 330h5M240 338h5M244 342h5M248 346h5M252 350h5M252 366h5M252 370h5M248 378h5M248 406h5M252 418h5M256 426h5"/>
<path stroke="#3af0ff" d="M528 118h13M516 122h5M536 122h9M616 122h5M544 126h5M500 130h5M548 130h5M492 134h5M548 134h5M604 134h5M484 138h5M552 138h5M480 142h5M556 142h5M588 142h9M476 146h5M564 146h17M428 150h13M472 150h5M416 154h5M448 154h9M464 154h5M404 158h13M400 162h5M360 194h5M348 206h5M340 214h5M332 222h5M324 226h5M320 234h5M316 242h5M312 250h5M300 262h5M256 266h9M276 266h5M292 266h5M248 270h5M164 274h5M244 274h5M156 278h5M164 278h5M244 278h5M160 282h5M228 310h5M228 314h5M228 318h5M228 322h5M232 326h5M232 330h5M236 334h5M236 338h5M240 342h5M244 346h5M248 350h5M252 354h5M252 358h5M252 362h5M248 374h5M244 382h5M244 386h5M244 390h5M244 394h5M244 398h5M244 402h5M248 410h5M248 414h5M252 422h5"/>
<path stroke="#34e5ff" d="M532 114h13M520 118h9M540 118h9M620 118h5M512 122h5M544 122h5M612 122h5M504 126h5M548 126h5M608 126h5M496 130h5M604 130h5M488 134h5M552 134h5M600 134h5M480 138h5M556 138h5M592 138h9M472 142h9M560 142h5M580 142h9M468 146h9M420 150h9M440 150h9M464 150h9M412 154h5M456 154h9M400 158h5M396 162h5M396 166h5M396 170h5M396 174h5M392 178h5M336 218h5M316 238h5M312 246h5M308 254h5M304 258h5M244 266h13M244 270h5M160 274h5M168 274h5M240 282h5M148 286h5M236 286h5M232 290h5M228 294h5M228 326h5M228 330h5M232 334h5M232 338h5M236 342h5M220 370h5M248 370h5M244 378h5M244 406h5M244 410h5M248 418h5M252 426h5"/>
<path stroke="#2edaff" d="M536 110h13M524 114h9M544 114h9M512 118h9M548 118h5M616 118h5M508 122h5M548 122h5M500 126h5M552 126h5M492 130h5M552 130h5M480 134h9M556 134h5M472 138h9M560 138h5M588 138h5M468 142h5M564 142h5M572 142h9M432 146h5M464 146h5M416 150h5M448 150h17M396 154h17M396 158h5M388 182h5M384 186h5M376 190h5M352 202h5M344 206h5M328 222h5M320 230h5M312 242h5M244 262h5M260 262h13M296 262h5M240 278h5M164 282h5M152 286h9M224 298h5M224 302h5M224 306h5M224 310h5M224 314h5M224 318h5M204 322h5M224 322h5M224 326h5M224 330h5M228 334h5M228 338h5M232 342h5M236 346h9M244 350h5M248 354h5M248 358h5M248 362h5M216 366h9M248 366h5M244 374h5M240 382h5M240 386h5M240 390h5M240 394h5M240 398h5M240 402h5M240 406h5M244 414h5M248 422h5M252 430h5"/>
<path stroke="#28d0ff" d="M544 106h5M524 110h13M548 110h5M516 114h9M616 114h5M552 118h5M612 118h5M504 122h5M552 122h5M608 122h5M496 126h5M556 126h5M604 126h5M484 130h9M556 130h5M600 130h5M472 134h9M560 134h5M596 134h5M468 138h5M564 138h5M580 138h9M464 142h5M568 142h5M424 146h9M436 146h13M456 146h9M396 150h9M412 150h5M392 166h5M392 170h5M392 174h5M340 210h5M332 218h5M308 250h5M240 262h5M248 262h5M256 262h5M272 262h5M240 266h5M164 270h9M240 270h5M240 274h5M168 278h5M152 282h5M236 282h5M144 286h5M160 286h5M144 290h13M228 290h5M224 294h5M220 318h5M208 322h5M216 322h9M200 326h25M220 330h5M224 334h5M224 338h5M228 342h5M232 346h5M236 350h9M244 354h5M216 362h9M224 366h5M216 370h5M244 370h5M240 374h5M240 378h5M240 410h5M244 418h5M248 426h5M248 430h5"/>
<path stroke="#20c4ff" d="M528 106h17M548 106h5M520 110h5M512 114h5M552 114h5M612 114h5M508 118h5M500 122h5M556 122h5M492 126h5M468 130h17M560 130h5M464 134h9M564 134h5M588 134h9M464 138h5M568 138h13M460 142h5M420 146h5M448 146h9M404 150h9M392 162h5M356 198h5M348 202h5M336 214h5M320 226h5M316 234h5M312 238h5M304 254h5M300 258h5M252 262h5M276 262h5M292 262h5M172 270h5M156 274h5M172 274h5M236 278h5M140 286h5M232 286h5M140 290h5M148 294h5M220 314h5M216 318h5M200 322h5M212 322h5M196 326h5M200 330h21M220 334h5M220 338h5M224 342h5M224 346h9M228 350h9M228 354h17M220 358h13M224 362h9M244 366h5M240 370h5M236 382h5M236 386h5M236 390h5M236 394h5M236 398h5M236 402h5M236 406h5M240 414h5M244 422h5"/>
<path stroke="#18b8ff" d="M540 102h5M524 106h5M516 110h5M552 110h5M508 114h5M556 114h5M504 118h5M556 118h5M608 118h5M496 122h5M604 122h5M468 126h5M484 126h9M560 126h5M464 130h5M564 130h5M596 130h5M460 134h5M568 134h21M456 138h9M428 142h33M416 146h5M392 158h5M388 178h5M380 186h5M372 190h5M344 202h5M324 222h5M308 246h5M260 258h13M280 262h13M172 266h5M160 270h5M236 274h5M168 282h5M164 286h5M156 290h5M224 290h5M144 294h5M152 294h5M220 294h5M220 298h5M220 310h5M216 314h5M200 318h17M196 322h5M192 326h5M188 330h13M184 334h37M180 338h13M216 338h5M180 342h9M220 342h5M180 346h9M220 350h9M220 354h9M216 358h5M232 358h9M244 358h5M212 362h5M232 362h17M212 366h5M228 366h17M224 370h5M236 370h5M236 374h5M236 378h5M240 418h5M244 426h5"/>
<path stroke="#10acff" d="M524 102h17M544 102h9M516 106h9M552 106h5M512 110h5M556 110h5M612 110h5M608 114h5M500 118h5M560 118h5M604 118h5M492 122h5M560 122h5M464 126h5M472 126h13M564 126h5M600 126h5M460 130h5M568 130h9M584 130h13M456 134h5M452 138h5M424 142h5M392 150h5M392 154h5M388 170h5M388 174h5M340 206h5M336 210h5M308 242h5M240 258h5M256 258h5M236 262h5M168 266h5M176 266h5M176 270h5M236 270h5M172 278h5M232 282h5M136 286h5M228 286h5M136 290h5M140 294h5M144 298h9M220 302h5M220 306h5M212 314h5M196 318h5M192 322h5M124 326h5M188 326h5M124 330h5M180 330h9M180 334h5M176 338h5M192 338h9M212 338h5M176 342h5M188 342h9M216 342h5M176 346h5M188 346h5M220 346h5M216 354h5M212 358h5M240 358h5M212 370h5M228 370h9M216 374h9M232 374h5M232 378h5M232 382h5M232 386h5M232 390h5M232 394h5M232 398h5M232 402h5M236 410h5M240 422h5"/>
<path stroke="#08a0ff" d="M532 98h9M520 102h5M512 106h5M556 106h5M508 110h5M608 110h5M504 114h5M560 114h5M604 114h5M496 118h5M464 122h13M484 122h9M564 122h5M600 122h5M460 126h5M568 126h5M596 126h5M456 130h5M576 130h9M452 134h5M428 138h25M420 142h5M396 146h21M388 166h5M384 182h5M364 190h5M332 214h5M328 218h5M316 230h5M312 234h5M308 238h5M304 250h5M260 254h9M236 258h5M244 258h5M252 258h5M272 258h5M296 258h5M232 262h5M164 266h5M236 266h5M176 274h5M152 278h5M232 278h5M148 282h5M168 286h5M160 290h9M220 290h5M136 294h5M156 294h5M140 298h5M152 298h9M216 310h5M204 314h9M192 318h5M184 322h9M120 326h5M128 326h5M180 326h9M120 330h5M128 330h5M176 330h5M176 334h5M200 338h13M196 342h5M192 346h5M216 346h5M180 350h9M216 350h5M212 354h5M208 362h5M208 366h5M228 374h5M232 406h5M236 414h5M236 418h5M240 426h5M240 430h5"/>
<path stroke="#0698ff" d="M520 98h13M540 98h9M516 102h5M552 102h5M608 106h5M560 110h5M604 110h5M500 114h5M564 114h5M492 118h5M564 118h5M600 118h5M460 122h5M476 122h9M568 122h5M456 126h5M572 126h25M448 134h5M424 138h5M384 178h5M376 186h5M368 190h5M344 198h9M340 202h5M236 254h9M256 254h5M268 254h5M300 254h5M232 258h5M248 258h5M172 262h5M232 266h5M232 270h5M232 274h5M144 282h5M172 282h5M132 290h5M168 290h5M132 294h5M160 294h9M216 294h5M160 298h5M216 298h5M144 302h17M212 310h5M196 314h9M184 318h9M104 322h29M176 322h9M104 326h17M132 326h5M172 326h9M116 330h5M172 330h5M172 334h5M172 338h5M172 342h5M200 342h5M212 342h5M196 346h5M212 346h5M176 350h5M188 350h9M212 350h5M208 354h5M208 358h5M208 370h5M212 374h5M224 374h5M228 378h5M228 382h5M228 386h5M228 390h5M236 422h5"/>
<path stroke="#0490ff" d="M524 94h17M516 98h5M548 98h5M512 102h5M556 102h5M508 106h5M560 106h5M504 110h5M564 110h5M600 110h5M600 114h5M460 118h13M488 118h5M568 118h5M572 122h29M452 130h5M428 134h21M416 142h5M392 146h5M388 162h5M384 174h5M340 194h9M356 194h5M352 198h5M304 246h5M272 254h5M276 258h5M168 262h5M176 262h5M228 262h5M180 266h5M156 270h5M180 270h5M176 278h5M228 282h5M132 286h5M172 286h5M224 286h5M128 290h5M216 290h5M124 294h9M136 298h5M164 298h5M140 302h5M160 302h9M144 306h21M216 306h5M204 310h9M192 314h5M116 318h9M172 318h13M132 322h5M168 322h9M168 326h5M108 330h9M132 330h5M168 330h5M120 334h13M168 334h5M204 342h9M172 346h5M200 346h5M196 350h9M184 354h25M204 358h5M204 362h5M220 378h9M224 382h5M228 394h5M228 398h5M228 402h5M232 410h5M232 414h5M232 418h5M236 426h5"/>
<path stroke="#0288ff" d="M520 94h5M540 94h13M512 98h5M552 98h5M508 102h5M560 102h5M504 106h5M564 106h5M500 110h5M568 110h5M596 110h5M460 114h5M496 114h5M568 114h5M596 114h5M472 118h17M572 118h29M456 122h5M452 126h5M424 130h9M448 130h5M424 134h5M388 158h5M384 170h5M380 182h5M360 190h5M340 198h5M336 206h5M320 222h5M304 242h5M236 250h9M252 250h21M244 254h5M252 254h5M292 258h5M160 266h5M228 266h5M228 270h5M152 274h5M180 274h5M228 274h5M140 282h5M220 286h5M124 290h5M168 294h5M128 298h9M168 298h5M136 302h5M168 302h5M140 306h5M164 306h9M140 310h37M200 310h5M152 314h41M108 318h9M124 318h17M156 318h17M100 322h5M136 322h9M160 322h9M100 326h5M136 326h5M164 326h5M104 330h5M136 330h5M164 330h5M116 334h5M132 334h5M168 338h5M204 346h9M204 350h9M180 354h5M196 358h9M200 362h5M204 366h5M216 378h5M220 382h5M224 386h5M224 390h5M228 406h5M228 410h5M228 414h5M232 422h5M236 430h5M236 434h5"/>
<path stroke="#0080ff" d="M520 90h25M516 94h5M552 94h5M556 98h9M564 102h5M596 102h5M568 106h5M596 106h5M572 110h5M592 110h5M464 114h5M492 114h5M572 114h25M456 118h5M424 126h5M432 130h5M444 130h5M420 138h5M412 142h5M388 154h5M68 190h9M332 210h5M316 226h5M308 234h5M248 246h9M244 250h9M272 250h5M300 250h5M232 254h5M228 258h5M280 258h5M180 262h5M228 278h5M136 282h5M176 282h5M216 286h5M172 290h5M212 290h5M172 294h5M212 294h5M124 298h5M172 298h5M128 302h9M172 302h5M136 306h5M172 306h9M208 306h9M136 310h5M176 310h25M116 314h13M132 314h21M104 318h5M140 318h17M144 322h17M140 326h9M152 326h13M100 330h5M140 330h5M160 330h5M108 334h9M164 334h5M168 342h5M172 350h5M176 354h5M188 358h9M196 362h5M200 366h5M204 370h5M208 374h5M212 378h5M224 394h5M224 398h5M224 402h5M224 414h5M228 418h5M232 426h5"/>
<path stroke="#007aff" d="M516 90h5M544 90h9M512 94h5M556 94h5M508 98h5M564 98h5M592 98h5M504 102h5M568 102h9M588 102h9M500 106h5M572 106h25M496 110h5M576 110h17M468 114h5M488 114h5M452 122h5M448 126h5M420 130h5M436 130h9M420 134h5M396 142h17M384 166h5M380 174h5M380 178h5M372 186h5M68 194h5M328 214h5M324 218h5M312 230h5M304 238h5M236 246h13M256 246h5M248 254h5M296 254h5M172 258h9M288 258h5M164 262h5M224 262h5M184 266h5M224 266h5M184 270h5M224 270h5M204 274h9M204 278h9M208 282h9M224 282h5M128 286h5M208 286h9M208 290h5M120 294h5M208 294h5M120 298h5M212 298h5M124 302h5M176 302h5M212 302h9M124 306h13M180 306h5M200 306h9M120 310h9M132 310h5M108 314h9M128 314h5M100 318h5M96 322h5M96 326h5M148 326h5M144 330h17M104 334h5M136 334h9M160 334h5M120 338h13M164 338h5M184 358h5M192 362h5M216 382h5M220 386h5M224 406h5M224 410h5M224 418h5M228 422h5M232 430h5M232 434h5"/>
<path stroke="#0073ff" d="M520 86h29M552 90h5M508 94h5M560 94h9M588 94h5M504 98h5M568 98h25M576 102h13M492 110h5M456 114h5M472 114h17M420 126h5M428 126h5M388 150h5M380 170h5M376 182h5M72 186h5M348 194h9M336 202h5M260 246h17M232 250h5M228 254h5M168 258h5M284 258h5M220 266h5M204 270h21M184 274h5M200 274h5M212 274h9M224 274h5M148 278h5M180 278h5M200 278h5M212 278h9M204 282h5M216 282h9M176 286h5M204 286h5M120 290h5M176 290h5M176 294h5M176 298h5M208 298h5M120 302h5M180 302h5M204 302h9M120 306h5M184 306h17M116 310h5M128 310h5M104 314h5M96 330h5M144 334h17M112 338h9M132 338h5M160 338h5M164 342h5M168 346h5M180 358h5M188 362h5M196 366h5M200 370h5M204 374h5M208 378h5M220 390h5M220 394h5M228 426h5M232 438h5"/>
<path stroke="#006dff" d="M528 82h17M516 86h5M548 86h9M512 90h5M556 90h17M580 90h9M568 94h21M500 102h5M496 106h5M452 118h5M444 126h5M392 142h5M388 146h5M384 162h5M68 186h5M64 190h5M76 190h5M340 190h5M276 254h5M180 258h5M224 258h5M184 262h5M220 262h5M156 266h5M188 266h5M216 266h5M152 270h5M188 270h5M200 270h5M196 274h5M220 274h5M220 278h9M132 282h5M200 282h5M124 286h5M200 286h5M204 290h5M204 294h5M180 298h5M200 298h9M184 302h5M200 302h5M116 306h5M112 310h5M96 318h5M92 326h5M100 334h5M108 338h5M136 338h9M156 338h5M172 354h5M176 358h5M184 362h5M192 366h5M196 370h5M212 382h5M216 386h5M220 398h5M220 402h5M220 406h5M220 410h5M220 414h5M224 422h5M228 430h5"/>
<path stroke="#0066ff" d="M520 82h9M544 82h13M512 86h5M556 86h21M508 90h5M572 90h9M504 94h5M500 98h5M460 110h9M488 110h5M448 122h5M432 126h13M416 138h5M76 186h5M368 186h5M344 190h5M356 190h5M64 194h5M72 194h5M336 198h5M332 206h5M232 246h5M300 246h5M172 254h5M160 262h5M216 262h5M192 266h5M200 266h17M192 270h9M188 274h9M144 278h5M184 278h5M196 278h5M180 282h5M196 282h5M200 290h5M180 294h5M200 294h5M116 298h5M184 298h5M116 302h5M188 302h13M108 310h5M100 314h5M92 322h5M92 330h5M96 334h5M104 338h5M144 338h13M120 342h17M160 342h5M164 346h5M168 350h5M180 362h5M188 366h5M192 370h5M200 374h5M204 378h5M216 390h5M220 418h5M228 434h5M228 438h5M228 442h5"/>
<path stroke="#0060ff" d="M524 78h33M516 82h5M556 82h17M496 102h5M492 106h5M456 110h5M468 110h5M484 110h5M416 134h5M408 138h9M384 158h5M376 178h5M68 182h9M64 186h5M328 210h5M316 222h5M240 242h5M248 242h9M264 242h9M228 250h5M276 250h5M176 254h5M224 254h5M292 254h5M164 258h5M184 258h5M220 258h5M188 262h5M212 262h5M196 266h5M148 274h5M140 278h5M188 278h9M128 282h5M180 286h5M196 286h5M180 290h5M196 290h5M116 294h5M184 294h5M196 294h5M188 298h13M112 306h5M104 310h5M96 314h5M92 318h5M88 322h5M72 326h9M88 326h5M88 330h5M92 334h5M100 338h5M112 342h9M136 342h9M156 342h5M172 358h5M176 362h5M184 366h5M188 370h5M196 374h5M208 382h5M212 386h5M216 394h5M216 398h5M216 402h5M216 406h5M216 410h5M224 426h5"/>
<path stroke="#0059fe" d="M532 74h33M520 78h5M556 78h13M512 82h5M508 86h5M504 90h5M500 94h5M472 110h13M452 114h5M424 122h5M416 130h5M396 138h13M388 142h5M380 166h5M56 174h13M56 178h21M60 182h9M76 182h5M60 186h5M364 186h5M68 198h5M324 214h5M312 226h5M308 230h5M304 234h5M236 242h5M244 242h5M256 242h9M300 242h5M296 250h5M168 254h5M192 262h21M192 282h5M120 286h5M192 286h5M116 290h5M184 290h5M192 290h5M188 294h9M112 302h5M108 306h5M100 310h5M76 322h5M84 322h5M80 326h9M72 330h17M96 338h5M108 342h5M144 342h13M160 346h5M168 354h5M180 366h5M184 370h5M192 374h5M200 378h5M212 390h5M216 414h5M220 422h5M224 430h5M224 434h5M224 438h5M224 442h5"/>
<path stroke="#0052fd" d="M552 70h9M528 74h5M516 78h5M496 98h5M492 102h5M460 106h5M488 106h5M448 118h5M420 122h5M428 122h5M444 122h5M392 138h5M384 154h5M56 170h13M52 174h5M68 174h5M376 174h5M76 178h5M56 182h5M372 182h5M80 186h5M60 190h5M80 190h5M336 194h5M64 198h5M332 202h5M320 218h5M180 254h5M188 258h5M216 258h5M136 278h5M124 282h5M184 282h9M188 290h5M112 298h5M92 314h5M88 318h5M72 322h5M80 322h5M64 326h9M64 330h9M68 334h25M104 342h5M124 346h13M156 346h5M164 350h5M172 362h5M176 366h5M188 374h5M196 378h5M204 382h5M208 386h5M212 394h5M216 418h5M220 442h5M220 446h5"/>
<path stroke="#004cfc" d="M512 78h5M508 82h5M504 86h5M500 90h5M464 106h5M484 106h5M432 122h5M440 122h5M416 126h5M412 134h5M388 138h5M384 150h5M56 166h13M52 170h5M68 170h5M72 174h5M52 178h5M80 182h5M56 186h5M360 186h5M352 190h5M60 194h5M72 198h5M316 202h5M268 238h5M232 242h5M272 242h5M228 246h5M276 246h5M184 254h5M220 254h5M280 254h5M160 258h5M192 258h5M208 258h9M156 262h5M152 266h5M132 278h5M184 286h9M112 294h5M104 306h5M96 310h5M84 318h5M48 322h9M64 322h9M48 326h17M52 330h13M56 334h13M92 338h5M100 342h5M116 346h9M136 346h21M168 358h5M180 370h5M184 374h5M192 378h5M200 382h5M212 398h5M212 402h5M212 406h5M212 410h5M212 414h5M216 422h5M220 426h5M220 434h5M220 438h5M216 446h5"/>
<path stroke="#0045fb" d="M508 78h5M504 82h5M496 94h5M456 106h5M468 106h5M480 106h5M452 110h5M436 122h5M384 146h5M56 162h9M380 162h5M52 166h5M68 166h5M48 170h5M72 170h5M48 174h5M76 174h5M80 178h5M52 182h5M56 190h5M348 190h5M76 194h5M64 202h9M328 206h5M300 238h5M224 250h5M164 254h5M216 254h5M288 254h5M196 258h13M148 270h5M144 274h5M116 286h5M108 302h5M100 306h5M88 314h5M48 318h5M72 318h13M44 322h5M56 322h9M44 326h5M44 330h9M48 334h9M52 338h41M96 342h5M108 346h9M160 350h5M164 354h5M168 362h5M172 366h5M176 370h5M180 374h5M188 378h5M196 382h5M204 386h5M208 390h5M212 418h5M220 430h5M216 438h5M216 442h5M212 446h5"/>
<path stroke="#003efa" d="M512 74h5M500 86h5M492 98h5M460 102h5M488 102h5M472 106h9M448 114h5M412 130h5M408 134h5M384 138h5M384 142h5M52 162h5M64 162h9M48 166h5M72 166h5M76 170h5M376 170h5M48 178h5M52 186h5M60 198h5M316 198h5M332 198h5M72 202h5M264 238h5M296 246h5M172 250h9M188 254h5M212 254h5M128 278h5M120 282h5M112 290h5M108 298h5M104 302h5M92 310h5M84 314h5M44 318h5M52 318h5M68 318h5M40 326h5M40 330h5M40 334h9M44 338h9M48 342h33M92 342h5M104 346h5M124 350h37M172 370h5M176 374h5M184 378h5M192 382h5M208 394h5M208 398h5M208 402h5M208 406h5M208 410h5M208 414h5M212 422h5M216 426h5M216 434h5M212 438h5M212 442h5M208 446h5"/>
<path stroke="#0039f4" d="M512 70h5M508 74h5M504 78h5M500 82h5M496 90h5M460 98h5M456 102h5M464 102h5M452 106h5M444 118h5M416 122h5M396 134h13M52 158h17M380 158h5M48 162h5M44 166h5M76 166h5M44 170h5M44 174h5M80 174h5M372 178h5M48 182h5M368 182h5M84 186h5M356 186h5M56 194h5M80 194h5M320 202h5M68 206h5M280 206h5M324 210h5M312 222h5M308 226h5M304 230h5M236 238h9M272 238h5M228 242h5M168 250h5M180 250h5M220 250h5M292 250h5M192 254h21M284 254h5M140 274h5M108 294h5M96 306h5M80 314h5M56 318h13M40 322h5M36 330h5M36 334h5M40 338h5M44 342h5M80 342h13M48 346h33M96 346h9M116 350h9M164 358h5M168 366h5M172 374h5M176 378h9M184 382h9M200 386h5M204 390h5M208 418h5M208 422h5M212 426h5M216 430h5M212 434h5M208 438h5M204 442h9M204 446h5"/>
<path stroke="#0034ed" d="M508 70h5M504 74h5M500 78h5M460 94h5M492 94h5M456 98h5M464 98h5M484 102h5M424 118h5M392 134h5M40 170h5M80 170h5M44 178h5M84 178h5M84 182h5M48 186h5M52 190h5M76 198h5M312 198h5M320 198h5M60 202h5M280 202h5M312 202h5M328 202h5M64 206h5M276 206h5M284 206h5M280 210h13M316 218h5M252 238h5M260 238h5M224 246h5M184 250h5M160 254h5M156 258h5M152 262h5M124 278h5M116 282h5M112 286h5M104 298h5M100 302h5M88 310h5M76 314h5M40 318h5M36 322h5M36 326h5M32 330h5M80 346h5M92 346h5M52 350h25M108 350h9M148 354h17M164 362h5M164 366h5M168 370h5M168 374h5M172 378h5M176 382h9M188 386h13M204 394h5M204 398h5M204 402h5M204 406h5M204 410h5M204 414h5M204 418h5M204 422h5M204 426h9M204 430h13M204 434h9M200 438h9M196 442h9M192 446h13"/>
<path stroke="#0030e7" d="M496 86h5M464 94h5M488 98h5M452 102h5M468 102h5M480 102h5M448 110h5M420 118h5M428 118h5M440 118h5M412 126h5M388 134h5M380 154h5M80 166h5M376 166h5M40 174h5M84 174h5M40 178h5M44 182h5M84 190h5M316 194h5M56 198h5M76 202h5M276 202h5M72 206h5M288 206h9M316 206h13M68 210h5M292 210h5M320 214h5M300 234h5M232 238h5M244 238h5M256 238h5M296 242h5M164 250h5M188 250h5M212 250h9M148 266h5M136 274h5M108 290h5M92 306h5M84 310h5M44 314h33M36 318h5M32 326h5M84 346h9M76 350h9M100 350h9M56 354h21M124 354h25M60 358h9M160 358h5M160 362h5M164 370h5M168 378h5M172 382h5M176 386h13M200 390h5M200 406h5M200 410h5M200 414h5M196 418h9M196 422h9M196 426h9M196 430h9M192 434h13M188 438h13M184 442h13M184 446h9"/>
<path stroke="#002be0" d="M508 66h5M504 70h5M500 74h5M496 82h5M492 90h5M456 94h5M452 98h5M472 102h9M432 118h9M408 130h5M384 134h5M84 170h5M36 174h5M40 182h5M364 182h5M44 186h5M352 186h5M52 194h5M312 194h5M320 194h5M308 198h5M324 198h9M284 202h9M308 202h5M60 206h5M312 206h5M64 210h5M276 210h5M280 214h13M268 234h5M248 238h5M224 242h5M176 246h5M192 250h21M144 270h5M132 274h5M120 278h5M104 294h5M100 298h5M96 302h5M40 314h5M32 322h5M28 326h5M84 350h17M76 354h13M116 354h9M68 358h13M148 358h13M64 362h9M156 362h5M160 366h5M160 370h5M164 374h5M164 378h5M168 382h5M168 386h9M168 390h33M168 394h25M164 398h21M200 398h5M160 402h17M196 402h9M160 406h17M192 406h9M164 410h13M188 410h13M180 414h21M176 418h21M176 422h21M176 426h21M176 430h21M172 434h21M172 438h17M168 442h17"/>
<path stroke="#0026da" d="M504 66h5M500 70h5M496 78h5M492 86h5M464 90h5M488 94h5M468 98h5M484 98h5M448 106h5M444 114h5M412 122h5M368 150h5M380 150h5M376 162h5M84 166h5M372 174h5M36 178h5M88 182h5M344 186h5M48 190h5M316 190h9M336 190h5M84 194h5M324 194h5M332 194h5M80 198h5M56 202h5M292 202h5M304 202h5M324 202h5M272 206h5M296 206h5M308 206h5M60 210h5M72 210h5M296 210h5M320 210h5M68 214h5M276 214h5M292 214h5M284 218h5M272 234h5M228 238h5M276 242h5M172 246h5M180 246h9M220 246h5M292 246h5M156 254h5M152 258h5M128 274h5M112 282h5M108 286h5M88 306h5M80 310h5M36 314h5M32 318h5M28 322h5M88 354h9M108 354h9M80 358h9M136 358h13M72 362h13M152 362h5M68 366h9M156 366h5M160 374h5M160 378h5M164 382h5M164 386h5M164 390h5M160 394h9M192 394h13M156 398h9M184 398h17M156 402h5M176 402h21M156 406h5M176 406h17M156 410h9M176 410h13M156 414h25M156 418h21M156 422h21M156 426h21M156 430h21M156 434h17M156 438h17M160 442h9M164 446h5"/>
<path stroke="#0022d1" d="M504 62h5M496 74h5M468 86h5M460 90h5M468 90h5M452 94h5M468 94h5M480 98h5M448 102h5M416 118h5M400 130h9M380 138h5M380 142h5M380 146h5M88 170h5M88 174h5M32 178h5M88 178h5M368 178h5M36 182h5M320 182h9M356 182h9M40 186h5M88 186h5M320 186h5M44 190h5M312 190h5M324 190h5M308 194h5M328 194h5M276 198h9M304 198h5M272 202h5M296 202h9M56 206h5M76 206h5M300 206h9M272 210h5M64 214h5M68 218h5M280 218h5M288 218h5M312 218h5M308 222h5M304 226h5M300 230h5M236 234h5M264 234h5M296 238h5M168 246h5M188 246h5M212 246h9M160 250h5M288 250h5M148 262h5M116 278h5M104 290h5M100 294h5M96 298h5M92 302h5M44 310h21M76 310h5M32 314h5M28 318h5M96 354h13M88 358h9M124 358h13M84 362h5M144 362h9M76 366h13M152 366h5M72 370h13M156 370h5M76 374h5M156 374h5M156 378h5M160 382h5M156 386h9M156 390h9M156 394h5M152 402h5M152 406h5M152 410h5M152 414h5M152 418h5M148 422h9M148 426h9M148 430h9M148 434h9M152 438h5"/>
<path stroke="#001dc8" d="M500 66h5M496 70h5M492 78h5M492 82h5M456 90h5M488 90h5M448 98h5M472 98h9M408 126h5M392 130h9M84 154h5M368 154h5M376 158h5M88 166h5M372 170h5M348 182h9M316 186h5M324 186h5M88 190h5M308 190h5M48 194h5M304 194h5M52 198h5M284 198h21M80 202h5M300 210h13M60 214h5M72 214h5M272 214h5M296 214h5M276 218h5M292 218h5M280 222h9M232 234h5M240 234h5M224 238h5M276 238h5M220 242h5M192 246h21M280 250h5M140 270h5M124 274h5M108 282h5M84 306h5M36 310h9M64 310h13M28 314h5M24 318h5M96 358h5M112 358h13M88 362h9M140 362h5M88 366h5M148 366h5M84 370h9M152 370h5M80 374h13M152 374h5M80 378h9M152 378h5M156 382h5M152 386h5M152 390h5M152 394h5M152 398h5M148 402h5M148 406h5M148 410h5M148 414h5M144 418h9M144 422h5M144 426h5M144 430h5"/>
<path stroke="#0019be" d="M500 62h5M496 66h5M492 74h5M464 86h5M488 86h5M452 90h5M448 94h5M472 94h5M484 94h5M444 110h5M420 114h13M388 130h5M380 134h5M372 150h5M372 154h9M88 158h5M88 162h5M320 178h5M348 178h5M316 182h5M344 182h5M312 186h5M340 186h5M328 190h9M300 194h5M272 198h5M268 206h5M56 210h5M76 210h5M268 210h5M312 210h5M64 218h5M272 218h5M276 222h5M288 222h5M268 230h9M228 234h5M244 234h5M276 234h5M216 242h5M164 246h5M156 250h5M152 254h5M144 266h5M120 274h5M112 278h5M104 286h5M100 290h5M92 298h5M88 302h5M80 306h5M32 310h5M24 314h5M100 358h5M108 358h5M96 362h5M124 362h17M92 366h9M144 366h5M92 370h9M148 370h5M92 374h9M148 374h5M88 378h13M148 378h5M84 382h13M148 382h9M88 386h5M148 386h5M148 390h5M140 394h5M148 394h5M148 398h5M144 402h5M144 406h5M144 410h5M144 414h5M140 418h5M140 422h5M140 426h5"/>
<path stroke="#0014b5" d="M500 58h5M496 62h5M492 70h5M488 82h5M460 86h5M472 86h5M472 90h5M480 94h5M440 114h5M412 118h5M408 122h5M384 130h5M364 150h5M88 154h5M92 166h5M372 166h5M92 170h5M92 174h5M92 178h5M324 178h5M344 178h5M92 182h5M328 182h5M328 186h5M348 186h5M304 190h5M296 194h5M84 198h5M52 202h5M268 202h5M52 206h5M80 206h5M56 214h5M76 214h5M268 214h5M300 214h21M60 218h5M72 218h5M296 218h5M308 218h5M272 222h5M292 222h5M272 226h13M296 226h9M276 230h5M224 234h5M248 234h17M296 234h5M220 238h5M172 242h17M212 242h5M292 242h5M148 258h5M136 270h5M116 274h5M96 294h5M40 306h21M24 310h9M104 358h5M100 362h5M116 362h9M136 366h9M100 370h5M144 370h5M100 374h5M144 374h5M100 378h5M144 378h5M96 382h5M144 382h5M92 386h9M144 386h5M92 390h9M140 390h9M136 394h5M144 394h5M136 398h13M136 402h9M140 406h5M140 410h5M140 414h5M136 418h5M136 422h5"/>
<path stroke="#0010ac" d="M496 58h5M492 66h5M488 74h5M488 78h5M468 82h9M456 86h5M448 90h5M484 90h5M444 94h5M476 94h5M444 98h5M444 102h5M444 106h5M416 114h5M432 114h5M400 126h9M368 146h13M88 150h5M364 154h5M92 158h5M92 162h5M368 174h5M316 178h5M352 178h5M312 182h5M340 182h5M92 186h5M308 186h5M300 190h5M88 194h5M276 194h5M292 194h5M52 210h5M316 210h5M268 218h5M64 222h9M268 222h5M296 222h5M268 226h5M284 226h5M264 230h5M280 230h5M216 238h5M168 242h5M188 242h9M204 242h9M160 246h5M284 250h5M68 254h5M128 270h9M108 278h5M104 282h5M100 286h5M88 298h5M84 302h5M32 306h9M60 306h9M76 306h5M20 310h5M104 362h13M100 366h9M124 366h13M136 370h9M140 374h5M140 378h5M100 382h5M140 382h5M100 386h5M136 386h9M100 390h9M132 390h9M96 394h13M116 394h5M132 394h5M100 398h9M132 398h5M132 402h5M136 406h5M136 410h5M136 414h5M132 418h5M128 422h9"/>
<path stroke="#000da5" d="M496 54h5M492 62h5M488 70h5M476 74h5M472 78h17M476 82h5M484 82h5M452 86h5M484 86h5M444 90h5M480 90h5M436 114h5M408 118h5M396 126h5M380 130h5M376 142h5M92 146h5M364 146h5M92 150h5M92 154h5M372 158h5M372 162h5M328 178h5M340 178h5M356 178h5M332 182h5M304 186h5M332 186h5M92 190h5M296 190h5M272 194h5M280 194h5M288 194h5M268 198h5M264 202h5M264 206h5M80 210h5M264 210h5M52 214h5M264 214h5M56 218h5M76 218h5M300 218h9M60 222h5M72 222h5M304 222h5M288 226h5M228 230h17M220 234h5M280 234h5M212 238h5M292 238h5M196 242h9M280 246h5M288 246h5M68 250h9M152 250h5M72 254h5M148 254h5M144 262h5M124 270h5M112 274h5M96 290h5M92 294h5M20 306h13M68 306h9M108 366h17M104 370h5M124 370h13M104 374h5M128 374h13M104 378h5M124 378h17M104 382h5M132 382h9M104 386h9M132 386h5M108 390h17M128 390h5M108 394h9M120 394h13M108 398h25M104 402h29M104 406h13M132 406h5M108 410h9M132 410h5M112 414h5M128 414h9M116 418h17"/>
<path stroke="#000b9e" d="M492 58h5M488 66h5M480 74h9M464 82h5M480 82h5M448 86h5M476 86h5M476 90h5M440 94h5M424 110h5M412 114h5M404 122h5M388 126h9M376 134h5M92 138h5M376 138h5M92 142h5M376 150h5M96 154h5M96 158h5M96 162h5M96 166h5M96 170h5M368 170h5M96 174h5M320 174h9M344 174h9M96 178h5M312 178h5M332 178h5M360 178h9M96 182h5M308 182h5M336 182h5M300 186h5M336 186h5M292 190h5M284 194h5M48 202h5M84 202h5M48 206h5M48 210h5M52 218h5M264 218h5M264 222h5M300 222h5M68 226h5M264 226h5M292 226h5M224 230h5M244 230h9M284 230h5M296 230h5M216 234h5M208 238h5M280 238h5M164 242h5M156 246h5M120 270h5M108 274h5M104 278h5M100 282h5M84 298h5M28 302h33M80 302h5M108 370h5M120 370h5M108 374h5M124 374h5M108 378h5M120 378h5M108 382h25M112 386h13M128 386h5M124 390h5M116 406h17M116 410h9M128 410h5M116 414h13"/>
<path stroke="#000896" d="M492 50h5M492 54h5M488 58h5M488 62h5M484 66h5M484 70h5M472 74h5M468 78h5M452 82h9M444 86h5M480 86h5M440 90h5M440 98h5M440 102h5M416 110h9M428 110h5M400 122h5M384 126h5M96 138h5M96 142h5M368 142h5M96 146h5M96 150h5M360 150h5M360 154h5M364 158h9M368 166h5M316 174h5M328 174h9M340 174h5M352 174h5M336 178h5M304 182h5M96 186h5M296 186h5M276 190h9M288 190h5M92 194h5M268 194h5M88 198h5M264 198h5M44 202h5M40 206h9M84 206h5M260 206h5M44 210h5M260 210h5M48 214h5M80 214h5M260 214h5M56 222h5M60 226h9M72 226h5M220 230h5M252 230h5M212 234h5M292 234h5M172 238h25M204 238h5M280 242h5M288 242h5M68 246h9M64 250h5M76 250h5M148 250h5M64 254h5M76 254h5M68 258h9M144 258h5M140 266h5M116 270h5M96 286h5M92 290h5M88 294h5M20 302h9M60 302h9M112 370h9M120 374h5M112 378h9M124 386h5M124 410h5"/>
<path stroke="#00068f" d="M488 50h5M488 54h5M484 62h5M480 70h5M444 82h9M460 82h5M440 86h5M440 106h5M432 110h5M440 110h5M408 114h5M404 118h5M380 126h5M376 130h5M96 134h5M100 142h5M364 142h5M372 142h5M100 146h5M360 146h5M100 150h5M100 154h5M100 158h5M100 162h5M100 166h5M100 170h5M324 170h5M100 174h5M336 174h5M356 174h5M364 174h5M308 178h5M300 182h5M292 186h5M96 190h5M272 190h5M284 190h5M264 194h5M260 202h5M36 210h9M84 210h5M44 214h5M48 218h5M260 218h5M52 222h5M76 222h5M260 222h5M224 226h25M260 226h5M68 230h5M216 230h5M256 230h9M288 230h9M208 234h5M284 234h5M168 238h5M196 238h9M72 242h5M160 242h5M76 246h5M152 246h5M284 246h5M144 254h5M76 258h5M112 270h5M104 274h5M100 278h5M16 298h37M80 298h5M68 302h5M76 302h5M112 374h9"/>
<path stroke="#000388" d="M484 54h5M484 58h5M480 62h5M480 66h5M476 70h5M468 74h5M448 78h5M436 90h5M436 94h5M436 98h5M412 110h5M404 114h5M396 122h5M100 130h5M100 134h5M372 134h5M100 138h5M372 138h5M360 142h5M356 150h5M360 158h5M364 162h9M320 170h5M328 170h9M340 170h13M364 170h5M312 174h5M360 174h5M100 178h5M100 182h5M296 182h5M280 186h13M268 190h5M96 194h5M260 198h5M256 206h5M256 210h5M32 214h13M256 214h5M40 218h9M80 218h5M256 218h5M48 222h5M256 222h5M56 226h5M76 226h5M220 226h5M248 226h13M64 230h5M72 230h5M212 230h5M68 234h9M204 234h5M288 234h5M68 238h9M164 238h5M284 238h9M68 242h5M76 242h5M156 242h5M284 242h5M64 246h5M80 246h5M148 246h5M80 250h5M144 250h5M80 254h5M64 258h5M80 258h5M68 262h13M140 262h5M120 266h21M108 270h5M100 274h5M96 282h5M92 286h5M88 290h5M12 294h13M84 294h5M52 298h13M72 302h5"/>
<path stroke="#000284" d="M484 50h5M480 54h5M480 58h5M476 66h5M472 70h5M444 78h5M452 78h9M464 78h5M440 82h5M436 86h5M436 102h5M416 106h25M408 110h5M436 110h5M400 118h5M380 122h17M104 126h5M376 126h5M104 130h5M372 130h5M104 134h5M104 138h5M364 138h9M104 142h5M104 146h5M356 146h5M104 150h5M104 154h5M356 154h5M104 158h5M104 162h5M104 166h5M324 166h5M364 166h5M104 170h5M316 170h5M336 170h5M352 170h13M300 178h9M288 182h9M100 186h5M272 186h9M100 190h5M264 190h5M260 194h5M92 198h5M256 198h5M256 202h5M252 210h5M84 214h5M252 214h5M32 218h9M252 218h5M40 222h9M220 222h17M244 222h13M48 226h9M212 226h9M56 230h9M76 230h5M208 230h5M64 234h5M76 234h5M172 234h25M200 234h5M64 238h5M76 238h5M64 242h5M80 242h5M152 242h5M84 246h5M60 250h5M84 250h5M60 254h5M84 254h5M140 254h5M84 258h5M140 258h5M80 262h5M112 266h9M104 270h5M96 278h5M0 282h5M4 286h9M8 290h17M84 290h5M24 294h21M80 294h5M64 298h5M76 298h5"/>
<path stroke="#000281" d="M480 50h5M476 54h5M476 58h5M476 62h5M472 66h5M468 70h5M444 74h9M464 74h5M440 78h5M460 78h5M436 82h5M432 86h5M432 90h5M432 94h5M432 98h5M428 102h9M412 106h5M404 110h5M400 114h5M396 118h5M376 122h5M108 126h5M372 126h5M108 130h5M108 134h5M368 134h5M108 138h5M360 138h5M108 142h5M356 142h5M108 146h5M352 146h5M108 150h5M352 150h5M108 154h5M352 154h5M108 158h5M356 158h5M108 162h5M360 162h5M108 166h5M316 166h9M328 166h29M360 166h5M312 170h5M104 174h5M308 174h5M104 178h5M288 178h13M276 182h13M268 186h5M260 190h5M100 194h5M256 194h5M96 198h5M88 202h5M252 202h5M88 206h5M252 206h5M88 210h5M248 214h5M84 218h5M224 218h9M244 218h9M32 222h9M80 222h5M216 222h5M236 222h9M36 226h13M208 226h5M52 230h5M204 230h5M60 234h5M80 234h5M164 234h9M196 234h5M80 238h5M160 238h5M84 242h5M148 242h5M60 246h5M88 246h5M144 246h5M88 250h5M140 250h5M88 254h5M88 258h5M64 262h5M84 262h5M128 262h9M68 266h17M100 266h13M96 270h9M96 274h5M4 278h5M4 282h13M92 282h5M12 286h13M88 286h5M24 290h13M44 294h21M68 298h9"/>
<path stroke="#00017d" d="M472 54h5M472 58h5M472 62h5M468 66h5M464 70h5M440 74h5M452 74h5M460 74h5M436 78h5M432 82h5M428 90h5M428 94h5M428 98h5M424 102h5M404 106h9M400 110h5M396 114h5M380 118h17M372 122h5M112 126h9M368 126h5M112 130h9M368 130h5M112 134h9M360 134h9M112 138h5M356 138h5M112 142h5M352 142h5M112 146h5M348 146h5M112 150h5M348 150h5M112 154h5M348 154h5M112 158h5M352 158h5M112 162h5M316 162h17M348 162h13M312 166h5M356 166h5M108 170h5M108 174h5M292 174h17M280 178h9M104 182h5M272 182h5M104 186h5M264 186h5M104 190h5M256 190h5M252 194h5M100 198h5M252 198h5M92 202h5M248 202h5M248 206h5M244 210h9M88 214h5M224 214h9M240 214h9M212 218h13M232 218h13M208 222h9M32 226h5M80 226h5M204 226h5M32 230h21M80 230h5M172 230h5M184 230h21M56 234h5M60 238h5M84 238h5M148 238h13M60 242h5M88 242h5M144 242h5M92 246h5M140 246h5M56 250h5M92 250h5M136 250h5M92 254h5M136 254h5M60 258h5M92 258h9M132 258h9M88 262h29M120 262h9M136 262h5M64 266h5M84 266h17M8 270h5M72 270h13M92 270h5M4 274h13M92 274h5M8 278h13M92 278h5M16 282h9M24 286h13M84 286h5M36 290h13M80 290h5M64 294h17"/>
<path stroke="#00017a" d="M468 54h5M468 58h5M464 62h9M464 66h5M440 70h13M460 70h5M432 74h9M456 74h5M432 78h5M428 82h5M424 86h9M424 90h5M424 94h5M424 98h5M404 102h21M400 106h5M396 110h5M380 114h17M372 118h9M368 122h5M120 126h5M364 126h5M120 130h5M364 130h5M120 134h5M352 134h9M116 138h9M348 138h9M116 142h9M344 142h9M116 146h5M344 146h5M116 150h5M344 150h5M344 154h5M116 158h5M316 158h17M344 158h9M116 162h5M312 162h5M332 162h17M112 166h9M112 170h5M284 170h17M308 170h5M280 174h13M108 178h5M272 178h9M264 182h9M256 186h9M252 190h5M104 194h5M248 194h5M104 198h5M244 198h9M96 202h9M240 202h9M92 206h9M236 206h13M92 210h5M216 210h29M92 214h5M208 214h17M232 214h9M88 218h5M204 218h9M84 222h5M200 222h9M188 226h17M84 230h5M160 230h13M176 230h9M32 234h25M84 234h9M148 234h17M28 238h17M88 238h9M140 238h9M56 242h5M92 242h5M136 242h9M56 246h5M96 246h5M132 246h9M96 250h5M128 250h9M56 254h5M96 254h9M128 254h9M100 258h13M124 258h9M16 262h5M60 262h5M116 262h5M12 266h9M60 266h5M12 270h9M64 270h9M84 270h9M16 274h9M68 274h25M20 278h9M24 282h13M84 282h9M36 286h9M76 286h9M48 290h33"/>
<path stroke="#000076" d="M428 50h13M408 54h41M404 58h57M464 58h5M400 62h65M396 66h69M392 70h49M452 70h9M388 74h45M388 78h45M388 82h41M388 86h37M384 90h41M376 94h49M324 98h21M372 98h53M320 102h29M364 102h41M316 106h85M312 110h85M308 114h73M272 118h101M256 122h113M252 126h113M124 130h9M248 130h117M124 134h13M244 134h109M124 138h17M244 138h105M124 142h21M244 142h101M120 146h29M240 146h105M120 150h33M240 150h105M116 154h41M244 154h101M120 158h53M240 158h77M332 158h13M120 162h193M120 166h193M116 170h169M300 170h9M112 174h169M112 178h161M108 182h157M108 186h149M108 190h145M108 194h141M108 198h137M104 202h137M100 206h137M96 210h121M96 214h113M92 218h113M88 222h113M84 226h105M88 230h73M92 234h57M44 238h17M96 238h45M28 242h29M96 242h41M32 246h25M100 246h33M32 250h25M100 250h29M24 254h33M104 254h25M20 258h41M112 258h13M20 262h41M20 266h41M20 270h45M24 274h45M28 278h65M36 282h49M44 286h33"/>
</g>
<path d="M120.6 300L130 294.4 148.75 288.75 167.5 281.25 176.9 273.75 190 267 195.6 271.9 188 279.4 171.25 286.9 160 294.4 141.25 301.9 126.25 307.5 120.6 305.6Z" fill="#0040ee" filter="url(#b1)"/>
<rect width="640" height="480" fill="#fff" opacity="0.035"/>
<defs>
<filter id="rlI" x="0" y="0" width="100%" height="100%" color-interpolation-filters="sRGB"><feTurbulence type="fractalNoise" baseFrequency="0.09 0.42" numOctaves="3" seed="11"/><feColorMatrix type="matrix" values="0 0 0 0 0.92  0 0 0 0 0.92  0 0 0 0 1  -9 0 0 0 4.15"/></filter>
<filter id="mb2" x="-20%" y="-20%" width="140%" height="140%"><feGaussianBlur stdDeviation="7"/></filter>
<mask id="hil" maskUnits="userSpaceOnUse" x="0" y="0" width="640" height="480"><rect width="640" height="480" fill="#000"/>
<g filter="url(#mb2)" fill="#fff">
<path d="M148 172L200 168 262 156 252 128 320 120 360 112 400 64 500 50 540 92 472 134 402 152 362 178 332 204 292 234 252 264 202 292 150 302 108 292 100 262 146 216Z"/>
<path d="M36 272L120 292 232 302 268 332 264 402 212 444 108 404 36 332Z"/>
<path d="M36 204L66 208 72 262 36 272Z"/>
</g></mask></defs>
<g mask="url(#hil)" opacity="0.22"><g transform="rotate(-66 320 240)"><rect x="-200" y="-300" width="1040" height="1080" filter="url(#rlI)"/></g></g>

<g fill="none" stroke="#3040e8" stroke-width="0.75" opacity="0.6" stroke-linejoin="round"><path d="M260 161L266 168L272 180L268 194L267.5 213.8L269 236L269 258.8L265.6 273.8L267.5 292.5L265.6 311L262.5 324L264 346L262.5 362L264 380.6L261 396L258 415"/><path d="M619.7 123L607.5 151.6"/><path d="M554.7 86.6L561 94.7L567 115L575 127L591.2 143.4L607.5 151.6"/><path d="M550.6 98.75L538.4 94.7L522 107L502 113L489.7 117L481.5 131L461 135L445 129L441 135L457 155.6L453 168L433 184L424.7 190"/><path d="M412.5 206L398 216.5L396 228.8L384 241L374.4 240.6L379.5 254L383 266L374.4 275L367.5 288.8L372.6 302.5L381.2 312.8L377.8 323L381.2 350.6L383 367.8L377.8 378L370 386"/><path d="M391.6 283.6L408.8 283.6L436.2 280L453.4 281.9L467.2 271.6L477.5 261.2L491.2 247.5L508.4 238.9L527.3 232"/><path d="M453.4 281.9L463.8 293.9L474 306L484.4 319.7"/><path d="M467.2 271.6L515 271.6"/><path d="M391.6 283.6L381.2 299L377.8 323"/><path d="M198.75 286L221 305L240 308.8"/><path d="M221 305L225 335L210 353.8L187.5 355.6L165 357.5"/><path d="M150 368.75L157.5 402.5L168.8 410L210 413.8L221 402.5L232.5 383.8L240 376"/><path d="M234.4 305.6L237.5 330.6L240.6 352.5L236 362"/><path d="M265.6 380.6L250 393L242 399.4L254.7 415"/><path d="M106 176L121 172.5L136 180L143.8 187.5L128.8 195L125 210L110 228.8L106 247.5"/></g>
<path d="M267.5 194L280 190.6L292.5 197L303.4 206L302 212.5L292.5 214L283 218.8L269 220L267.5 209.4L266 200L267.5 194" fill="none" stroke="#202868" stroke-width="0.9" opacity="0.8"/>
<path d="M418.75 191.25L426.25 190 426.25 193.75 421.25 200 417.5 200ZM410 203.75L416.25 203.75 416.25 207.5 411.25 208Z" fill="#7078c0"/><path d="M371 359.500l3.500 0-1 3.500-3 -.5z" fill="#7050c0"/>
</g>
<path d="M112.5 134L120 135L132.5 142.5L142.5 154L151 162.5L162.5 169L177.5 171L195 171L212.5 172.5L225 170L240 170L244 169L251 164L260 161L254 152.5L254 142.5L256 134L262.5 130L274 130L290 127.5L312.5 126L319 124L321 111L332.5 107.5L342.5 110L347.5 115L362.5 116L371 111L377.5 105L389 102.5L395 92.5L400 82.5L402.5 70L410 66L422.5 62.5L437.5 61L446 66L456 67.5L462.5 71L470 66L480 62.5L489 59L496 62.5L502.5 69L507.5 79L514 87.5L524 90L530 86L546 84L552.5 81L560 79L562.5 85L567.5 89L574 101L586 101L592.5 110L595 120L610 117.5L616 120L621 126L619 134L625 136L619 144L610 150L605 157.5L595 162.5L584 161L580 167.5L569 169L562.5 180L560 187.5L552.5 192.5L545 200L546 216L539 220L534 231L531 240L526 252.5L517.5 261L516 274L510 285L504 295L505 302.5L500 310L496 316L487.5 320L485 327.5L481 337.5L484 344L477.5 349L474 357.5L467.5 364L460 370L449 367.5L440 367.5L434 372.5L430 381L422.5 386L410 380L405 381L390 387L381 384L375 380L370 384L360 382.5L347.5 387.5L339 382.5L332.5 381L321 386L317.5 394L307.5 400L300 405L290 406L284 401L279 409L270 414L261 414L256 417.5L251 420L245 417L240 419L234 429L225 434L220 437.5L215 436L204 436L195 434L187.5 435L180 432L166 434L159 429L147.5 425L144 416L137.5 412.5L117.5 407.5L114 401L106 391L101 380L86 372.5L79 365L75 354L64 349L55 340L45 332.5L37.5 320L32.5 310L29 295L25 286L10 284L15 277.5L25 265.5L46 265.5L41 260L45 247.5L39 239L45 232.5L42.5 224L44 212.5L54 210L62.5 205L67.5 195L61 186L54 185L42.5 178.8L44 176L56 167L65 167.5L75 176L82.5 175L100 174L100 160L97.5 154L104 147.5L105 137.5Z" fill="none" stroke="#242424" stroke-width="1.9" stroke-linejoin="round"/>
<g opacity="0.999" font-family="Liberation Sans, sans-serif" font-weight="bold" font-size="15.1" text-anchor="middle" fill="#f4f1dc" stroke="#1c1610" stroke-width="3.5" stroke-linejoin="round" paint-order="stroke">
<text transform="translate(58.5 180.8) scale(.925 1)">75</text>
<text transform="translate(119 158.3) scale(.925 1)">100</text>
<text transform="translate(153.5 184.8) scale(.925 1)">100</text>
<text transform="translate(102.5 210.8) scale(.925 1)">100</text>
<text transform="translate(221.5 202.8) scale(.925 1)">100</text>
<text transform="translate(135 233.3) scale(.925 1)">100</text>
<text transform="translate(300 135.8) scale(.925 1)">100</text>
<text transform="translate(307.5 176.3) scale(.925 1)">100</text>
<text transform="translate(286.5 226.8) scale(.925 1)">87</text>
<text transform="translate(59 242.8) scale(.925 1)">100</text>
<text transform="translate(412.5 76.3) scale(.925 1)">100</text>
<text transform="translate(388.5 112.3) scale(.925 1)">100</text>
<text transform="translate(347.5 129.8) scale(.925 1)">100</text>
<text transform="translate(462.5 99.8) scale(.925 1)">81</text>
<text transform="translate(503 100.8) scale(.925 1)">74</text>
<text transform="translate(547.5 113.3) scale(.925 1)">61</text>
<text transform="translate(424 130.8) scale(.925 1)">69</text>
<text transform="translate(396.5 153.8) scale(.925 1)">62</text>
<text transform="translate(462.5 158.8) scale(.925 1)">60</text>
<text transform="translate(514.5 149.8) scale(.925 1)">49</text>
<text transform="translate(570 144.8) scale(.925 1)">63</text>
<text transform="translate(358.5 169.8) scale(.925 1)">98</text>
<text transform="translate(421.5 188.8) scale(.925 1)">43</text>
<text transform="translate(462 206.8) scale(.925 1)">42</text>
<text transform="translate(513 203.8) scale(.925 1)">38</text>
<text transform="translate(356 214.8) scale(.925 1)">50</text>
<text transform="translate(330 246.8) scale(.925 1)">53</text>
<text transform="translate(174 258.8) scale(.925 1)">74</text>
<text transform="translate(223 251.8) scale(.925 1)">84</text>
<text transform="translate(74 294.8) scale(.925 1)">99</text>
<text transform="translate(111 307.8) scale(.925 1)">78</text>
<text transform="translate(186.5 288.3) scale(.925 1)">79</text>
<text transform="translate(266 282.3) scale(.925 1)">51</text>
<text transform="translate(205 327.3) scale(.925 1)">61</text>
<text transform="translate(257 326.3) scale(.925 1)">47</text>
<text transform="translate(88 347.8) scale(.925 1)">82</text>
<text transform="translate(163 358.8) scale(.925 1)">82</text>
<text transform="translate(244.5 363.8) scale(.925 1)">65</text>
<text transform="translate(314 352.3) scale(.925 1)">41</text>
<text transform="translate(202 397.8) scale(.925 1)">85</text>
<text transform="translate(281 390.8) scale(.925 1)">44</text>
<text transform="translate(126.5 413.3) scale(.925 1)">93</text>
<text transform="translate(380.5 253.8) scale(.925 1)">32</text>
<text transform="translate(429.5 263.3) scale(.925 1)">32</text>
<text transform="translate(473 262.8) scale(.925 1)">31</text>
<text transform="translate(508 270.3) scale(.925 1)">35</text>
<text transform="translate(334 289.8) scale(.925 1)">37</text>
<text transform="translate(395 318.3) scale(.925 1)">30</text>
<text transform="translate(426 331.3) scale(.925 1)">29</text>
<text transform="translate(462.5 317.8) scale(.925 1)">35</text>
<text transform="translate(377.5 376.8) scale(.925 1)">32</text>
</g>
<rect x="411" y="440" width="224" height="35" fill="#fff" fill-opacity="0.55" stroke="#4a4a4a" stroke-width="1.6"/>
<rect x="425.8" y="443.3" width="202.6" height="13" fill="url(#cb)"/>
<g stroke="#333" stroke-width="1.4"><line x1="448" y1="456" x2="448" y2="460.5"/><line x1="468" y1="456" x2="468" y2="460.5"/><line x1="488" y1="456" x2="488" y2="460.5"/><line x1="508" y1="456" x2="508" y2="460.5"/><line x1="528" y1="456" x2="528" y2="460.5"/><line x1="548" y1="456" x2="548" y2="460.5"/><line x1="568" y1="456" x2="568" y2="460.5"/><line x1="588" y1="456" x2="588" y2="460.5"/><line x1="608" y1="456" x2="608" y2="460.5"/></g>
<g opacity="0.999" font-family="Liberation Sans, sans-serif" font-size="9" text-anchor="middle" fill="#000" stroke="#000" stroke-width="0.45"><text x="448.3" y="468.3">10</text><text x="468.3" y="468.3">20</text><text x="488.3" y="468.3">30</text><text x="508.3" y="468.3">40</text><text x="528.3" y="468.3">50</text><text x="548.3" y="468.3">60</text><text x="568.3" y="468.3">70</text><text x="588.3" y="468.3">80</text><text x="608.3" y="468.3">90</text><text x="418.5" y="462.5">%</text></g>
<rect x="8" y="428" width="122" height="46" rx="3" fill="#ebebeb" opacity="0.8"/>
<defs><linearGradient id="lg" x1="0" y1="1" x2="1" y2="0"><stop offset="0" stop-color="#2890c4"/><stop offset="0.5" stop-color="#2fb0a4"/><stop offset="1" stop-color="#3cc784"/></linearGradient></defs>
<g opacity="0.999">
<g opacity="0.86"><path fill="url(#lg)" fill-rule="evenodd" d="M29.7 430.8a17.8 19.2 0 1 0 .01 0ZM29.2 441a8.6 8.6 0 1 1-.01 0Z"/>
<path d="M21.2 445.5A6.4 6.4 0 0 0 32.6 453" stroke="url(#lg)" stroke-width="2.7" fill="none" stroke-linecap="round"/>
</g><path d="M11.2 458.5Q20.5 470.5 37 463.2Q23 463.8 14.8 455.5Z" fill="#e8e8e8"/><g fill="none" stroke="#e8e8e8" stroke-width="0.45" opacity="0.55"><circle cx="29.3" cy="449.8" r="10.5"/><circle cx="29.4" cy="449.9" r="12.3"/><circle cx="29.500" cy="450" r="14.100"/><circle cx="29.600" cy="450" r="15.900"/></g>
<g font-family="Liberation Sans, sans-serif" font-size="8.5" fill="#3a3a9c">
<text x="51.2" y="443.6" textLength="49.2" lengthAdjust="spacing">ORSZÁGOS</text>
<text x="51.2" y="453.5" textLength="75" lengthAdjust="spacing">METEOROLÓGIAI</text>
<text x="51.2" y="463.2" textLength="51.8" lengthAdjust="spacing">SZOLGÁLAT</text>
</g></g>
</svg>
<div class="box" id="title">Talajnedvesség a hasznosítható víztartalom arányában a 0-20 cm-es rétegben [%]</div>
<div class="box" id="date">2023-10-24</div>
</body></html>
